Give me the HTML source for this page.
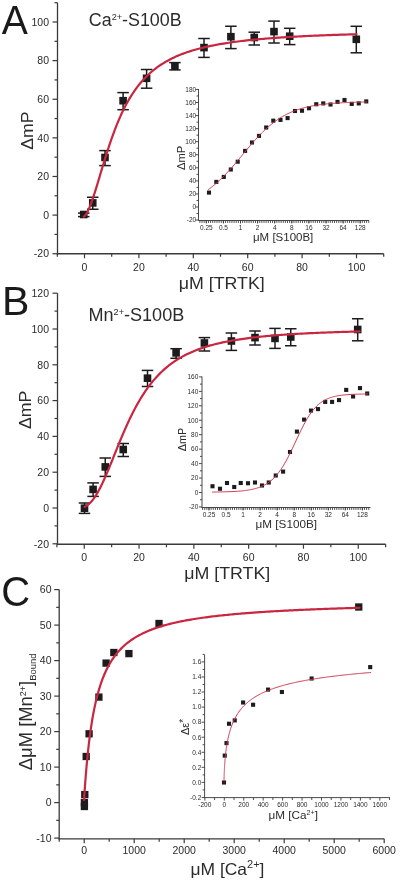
<!DOCTYPE html>
<html><head><meta charset="utf-8"><style>
html,body{margin:0;padding:0;background:#fff;}
body{width:400px;height:881px;overflow:hidden;font-family:"Liberation Sans", sans-serif;}
svg{display:block;filter:blur(0.3px);}
</style></head><body>
<svg width="400" height="881" viewBox="0 0 400 881" font-family='"Liberation Sans", sans-serif'>
<rect width="400" height="881" fill="#fff"/>
<text transform="translate(1.8,33.8) scale(0.9550,1)" font-size="41" text-anchor="start" fill="#1a1a1a">A</text>
<line x1="57.5" y1="2.69" x2="57.5" y2="254.35" stroke="#3a3a3a" stroke-width="1.3"/>
<line x1="52.5" y1="253.72" x2="57.5" y2="253.72" stroke="#3a3a3a" stroke-width="1.2"/>
<text x="49" y="257.48" font-size="10.5" text-anchor="end" fill="#2b2b2b" >-20</text>
<line x1="52.5" y1="215.1" x2="57.5" y2="215.1" stroke="#3a3a3a" stroke-width="1.2"/>
<text x="49" y="218.86" font-size="10.5" text-anchor="end" fill="#2b2b2b" >0</text>
<line x1="52.5" y1="176.48" x2="57.5" y2="176.48" stroke="#3a3a3a" stroke-width="1.2"/>
<text x="49" y="180.24" font-size="10.5" text-anchor="end" fill="#2b2b2b" >20</text>
<line x1="52.5" y1="137.86" x2="57.5" y2="137.86" stroke="#3a3a3a" stroke-width="1.2"/>
<text x="49" y="141.62" font-size="10.5" text-anchor="end" fill="#2b2b2b" >40</text>
<line x1="52.5" y1="99.24" x2="57.5" y2="99.24" stroke="#3a3a3a" stroke-width="1.2"/>
<text x="49" y="103" font-size="10.5" text-anchor="end" fill="#2b2b2b" >60</text>
<line x1="52.5" y1="60.62" x2="57.5" y2="60.62" stroke="#3a3a3a" stroke-width="1.2"/>
<text x="49" y="64.38" font-size="10.5" text-anchor="end" fill="#2b2b2b" >80</text>
<line x1="52.5" y1="22" x2="57.5" y2="22" stroke="#3a3a3a" stroke-width="1.2"/>
<text x="49" y="25.76" font-size="10.5" text-anchor="end" fill="#2b2b2b" >100</text>
<line x1="54.5" y1="234.41" x2="57.5" y2="234.41" stroke="#3a3a3a" stroke-width="1.2"/>
<line x1="54.5" y1="195.79" x2="57.5" y2="195.79" stroke="#3a3a3a" stroke-width="1.2"/>
<line x1="54.5" y1="157.17" x2="57.5" y2="157.17" stroke="#3a3a3a" stroke-width="1.2"/>
<line x1="54.5" y1="118.55" x2="57.5" y2="118.55" stroke="#3a3a3a" stroke-width="1.2"/>
<line x1="54.5" y1="79.93" x2="57.5" y2="79.93" stroke="#3a3a3a" stroke-width="1.2"/>
<line x1="54.5" y1="41.31" x2="57.5" y2="41.31" stroke="#3a3a3a" stroke-width="1.2"/>
<line x1="54.5" y1="2.69" x2="57.5" y2="2.69" stroke="#3a3a3a" stroke-width="1.2"/>
<line x1="56.9" y1="253.75" x2="383.7" y2="253.75" stroke="#3a3a3a" stroke-width="1.3"/>
<line x1="84.5" y1="253.75" x2="84.5" y2="258.25" stroke="#3a3a3a" stroke-width="1.2"/>
<text x="84.5" y="270.56" font-size="10.5" text-anchor="middle" fill="#2b2b2b" >0</text>
<line x1="138.9" y1="253.75" x2="138.9" y2="258.25" stroke="#3a3a3a" stroke-width="1.2"/>
<text x="138.9" y="270.56" font-size="10.5" text-anchor="middle" fill="#2b2b2b" >20</text>
<line x1="193.3" y1="253.75" x2="193.3" y2="258.25" stroke="#3a3a3a" stroke-width="1.2"/>
<text x="193.3" y="270.56" font-size="10.5" text-anchor="middle" fill="#2b2b2b" >40</text>
<line x1="247.7" y1="253.75" x2="247.7" y2="258.25" stroke="#3a3a3a" stroke-width="1.2"/>
<text x="247.7" y="270.56" font-size="10.5" text-anchor="middle" fill="#2b2b2b" >60</text>
<line x1="302.1" y1="253.75" x2="302.1" y2="258.25" stroke="#3a3a3a" stroke-width="1.2"/>
<text x="302.1" y="270.56" font-size="10.5" text-anchor="middle" fill="#2b2b2b" >80</text>
<line x1="356.5" y1="253.75" x2="356.5" y2="258.25" stroke="#3a3a3a" stroke-width="1.2"/>
<text x="356.5" y="270.56" font-size="10.5" text-anchor="middle" fill="#2b2b2b" >100</text>
<line x1="57.3" y1="253.75" x2="57.3" y2="256.75" stroke="#3a3a3a" stroke-width="1.2"/>
<line x1="111.7" y1="253.75" x2="111.7" y2="256.75" stroke="#3a3a3a" stroke-width="1.2"/>
<line x1="166.1" y1="253.75" x2="166.1" y2="256.75" stroke="#3a3a3a" stroke-width="1.2"/>
<line x1="220.5" y1="253.75" x2="220.5" y2="256.75" stroke="#3a3a3a" stroke-width="1.2"/>
<line x1="274.9" y1="253.75" x2="274.9" y2="256.75" stroke="#3a3a3a" stroke-width="1.2"/>
<line x1="329.3" y1="253.75" x2="329.3" y2="256.75" stroke="#3a3a3a" stroke-width="1.2"/>
<line x1="383.7" y1="253.75" x2="383.7" y2="256.75" stroke="#3a3a3a" stroke-width="1.2"/>
<text transform="translate(88.8,25.6) scale(1.0110,1)" font-size="17.7" text-anchor="start" fill="#2b2b2b">Ca<tspan font-size="9" dy="-5.9">2+</tspan><tspan dy="5.9">-S100B</tspan></text>
<text transform="translate(32.5,149.8) rotate(-90) scale(1.0260,1)" font-size="17.2" text-anchor="start" fill="#2b2b2b">ΔmP</text>
<text transform="translate(178.7,288.7) scale(1.0360,1)" font-size="17.2" text-anchor="start" fill="#2b2b2b">μM [TRTK]</text>
<line x1="83.75" y1="213.1" x2="83.75" y2="216.6" stroke="#1c1c1c" stroke-width="1.5"/>
<line x1="78" y1="213.1" x2="89.5" y2="213.1" stroke="#1c1c1c" stroke-width="1.5"/>
<line x1="78" y1="216.6" x2="89.5" y2="216.6" stroke="#1c1c1c" stroke-width="1.5"/>
<rect x="79.95" y="210.7" width="7.6" height="7.6" fill="#1c1c1c"/>
<line x1="92.75" y1="197.25" x2="92.75" y2="209.25" stroke="#1c1c1c" stroke-width="1.5"/>
<line x1="87" y1="197.25" x2="98.5" y2="197.25" stroke="#1c1c1c" stroke-width="1.5"/>
<line x1="87" y1="209.25" x2="98.5" y2="209.25" stroke="#1c1c1c" stroke-width="1.5"/>
<rect x="88.95" y="199.1" width="7.6" height="7.6" fill="#1c1c1c"/>
<line x1="105" y1="150.6" x2="105" y2="165.6" stroke="#1c1c1c" stroke-width="1.5"/>
<line x1="99.25" y1="150.6" x2="110.75" y2="150.6" stroke="#1c1c1c" stroke-width="1.5"/>
<line x1="99.25" y1="165.6" x2="110.75" y2="165.6" stroke="#1c1c1c" stroke-width="1.5"/>
<rect x="101.2" y="153.7" width="7.6" height="7.6" fill="#1c1c1c"/>
<line x1="123.1" y1="92.6" x2="123.1" y2="109.7" stroke="#1c1c1c" stroke-width="1.5"/>
<line x1="117.35" y1="92.6" x2="128.85" y2="92.6" stroke="#1c1c1c" stroke-width="1.5"/>
<line x1="117.35" y1="109.7" x2="128.85" y2="109.7" stroke="#1c1c1c" stroke-width="1.5"/>
<rect x="119.3" y="96.9" width="7.6" height="7.6" fill="#1c1c1c"/>
<line x1="146.6" y1="69.5" x2="146.6" y2="88.2" stroke="#1c1c1c" stroke-width="1.5"/>
<line x1="140.85" y1="69.5" x2="152.35" y2="69.5" stroke="#1c1c1c" stroke-width="1.5"/>
<line x1="140.85" y1="88.2" x2="152.35" y2="88.2" stroke="#1c1c1c" stroke-width="1.5"/>
<rect x="142.8" y="74.5" width="7.6" height="7.6" fill="#1c1c1c"/>
<line x1="174.9" y1="62.6" x2="174.9" y2="69.9" stroke="#1c1c1c" stroke-width="1.5"/>
<line x1="169.15" y1="62.6" x2="180.65" y2="62.6" stroke="#1c1c1c" stroke-width="1.5"/>
<line x1="169.15" y1="69.9" x2="180.65" y2="69.9" stroke="#1c1c1c" stroke-width="1.5"/>
<rect x="171.1" y="62.45" width="7.6" height="7.6" fill="#1c1c1c"/>
<line x1="204" y1="38.5" x2="204" y2="57.4" stroke="#1c1c1c" stroke-width="1.5"/>
<line x1="198.25" y1="38.5" x2="209.75" y2="38.5" stroke="#1c1c1c" stroke-width="1.5"/>
<line x1="198.25" y1="57.4" x2="209.75" y2="57.4" stroke="#1c1c1c" stroke-width="1.5"/>
<rect x="200.2" y="43.8" width="7.6" height="7.6" fill="#1c1c1c"/>
<line x1="230.9" y1="26.25" x2="230.9" y2="48.6" stroke="#1c1c1c" stroke-width="1.5"/>
<line x1="225.15" y1="26.25" x2="236.65" y2="26.25" stroke="#1c1c1c" stroke-width="1.5"/>
<line x1="225.15" y1="48.6" x2="236.65" y2="48.6" stroke="#1c1c1c" stroke-width="1.5"/>
<rect x="227.1" y="32.9" width="7.6" height="7.6" fill="#1c1c1c"/>
<line x1="254.25" y1="32.2" x2="254.25" y2="45" stroke="#1c1c1c" stroke-width="1.5"/>
<line x1="248.5" y1="32.2" x2="260" y2="32.2" stroke="#1c1c1c" stroke-width="1.5"/>
<line x1="248.5" y1="45" x2="260" y2="45" stroke="#1c1c1c" stroke-width="1.5"/>
<rect x="250.45" y="33.7" width="7.6" height="7.6" fill="#1c1c1c"/>
<line x1="274" y1="21.1" x2="274" y2="43" stroke="#1c1c1c" stroke-width="1.5"/>
<line x1="268.25" y1="21.1" x2="279.75" y2="21.1" stroke="#1c1c1c" stroke-width="1.5"/>
<line x1="268.25" y1="43" x2="279.75" y2="43" stroke="#1c1c1c" stroke-width="1.5"/>
<rect x="270.2" y="27.8" width="7.6" height="7.6" fill="#1c1c1c"/>
<line x1="289.7" y1="28.3" x2="289.7" y2="44.6" stroke="#1c1c1c" stroke-width="1.5"/>
<line x1="283.95" y1="28.3" x2="295.45" y2="28.3" stroke="#1c1c1c" stroke-width="1.5"/>
<line x1="283.95" y1="44.6" x2="295.45" y2="44.6" stroke="#1c1c1c" stroke-width="1.5"/>
<rect x="285.9" y="32.4" width="7.6" height="7.6" fill="#1c1c1c"/>
<line x1="356.3" y1="26.3" x2="356.3" y2="52.8" stroke="#1c1c1c" stroke-width="1.5"/>
<line x1="350.55" y1="26.3" x2="362.05" y2="26.3" stroke="#1c1c1c" stroke-width="1.5"/>
<line x1="350.55" y1="52.8" x2="362.05" y2="52.8" stroke="#1c1c1c" stroke-width="1.5"/>
<rect x="352.5" y="35.5" width="7.6" height="7.6" fill="#1c1c1c"/>
<text transform="translate(2,315) scale(1.0000,1)" font-size="41" text-anchor="start" fill="#1a1a1a">B</text>
<line x1="57.5" y1="293.2" x2="57.5" y2="544.85" stroke="#3a3a3a" stroke-width="1.3"/>
<line x1="52.5" y1="543.8" x2="57.5" y2="543.8" stroke="#3a3a3a" stroke-width="1.2"/>
<text x="49" y="547.56" font-size="10.5" text-anchor="end" fill="#2b2b2b" >-20</text>
<line x1="52.5" y1="508" x2="57.5" y2="508" stroke="#3a3a3a" stroke-width="1.2"/>
<text x="49" y="511.76" font-size="10.5" text-anchor="end" fill="#2b2b2b" >0</text>
<line x1="52.5" y1="472.2" x2="57.5" y2="472.2" stroke="#3a3a3a" stroke-width="1.2"/>
<text x="49" y="475.96" font-size="10.5" text-anchor="end" fill="#2b2b2b" >20</text>
<line x1="52.5" y1="436.4" x2="57.5" y2="436.4" stroke="#3a3a3a" stroke-width="1.2"/>
<text x="49" y="440.16" font-size="10.5" text-anchor="end" fill="#2b2b2b" >40</text>
<line x1="52.5" y1="400.6" x2="57.5" y2="400.6" stroke="#3a3a3a" stroke-width="1.2"/>
<text x="49" y="404.36" font-size="10.5" text-anchor="end" fill="#2b2b2b" >60</text>
<line x1="52.5" y1="364.8" x2="57.5" y2="364.8" stroke="#3a3a3a" stroke-width="1.2"/>
<text x="49" y="368.56" font-size="10.5" text-anchor="end" fill="#2b2b2b" >80</text>
<line x1="52.5" y1="329" x2="57.5" y2="329" stroke="#3a3a3a" stroke-width="1.2"/>
<text x="49" y="332.76" font-size="10.5" text-anchor="end" fill="#2b2b2b" >100</text>
<line x1="52.5" y1="293.2" x2="57.5" y2="293.2" stroke="#3a3a3a" stroke-width="1.2"/>
<text x="49" y="296.96" font-size="10.5" text-anchor="end" fill="#2b2b2b" >120</text>
<line x1="54.5" y1="525.9" x2="57.5" y2="525.9" stroke="#3a3a3a" stroke-width="1.2"/>
<line x1="54.5" y1="490.1" x2="57.5" y2="490.1" stroke="#3a3a3a" stroke-width="1.2"/>
<line x1="54.5" y1="454.3" x2="57.5" y2="454.3" stroke="#3a3a3a" stroke-width="1.2"/>
<line x1="54.5" y1="418.5" x2="57.5" y2="418.5" stroke="#3a3a3a" stroke-width="1.2"/>
<line x1="54.5" y1="382.7" x2="57.5" y2="382.7" stroke="#3a3a3a" stroke-width="1.2"/>
<line x1="54.5" y1="346.9" x2="57.5" y2="346.9" stroke="#3a3a3a" stroke-width="1.2"/>
<line x1="54.5" y1="311.1" x2="57.5" y2="311.1" stroke="#3a3a3a" stroke-width="1.2"/>
<line x1="56.9" y1="544.25" x2="385.65" y2="544.25" stroke="#3a3a3a" stroke-width="1.3"/>
<line x1="84.25" y1="544.25" x2="84.25" y2="548.75" stroke="#3a3a3a" stroke-width="1.2"/>
<text x="84.25" y="560.76" font-size="10.5" text-anchor="middle" fill="#2b2b2b" >0</text>
<line x1="139.05" y1="544.25" x2="139.05" y2="548.75" stroke="#3a3a3a" stroke-width="1.2"/>
<text x="139.05" y="560.76" font-size="10.5" text-anchor="middle" fill="#2b2b2b" >20</text>
<line x1="193.85" y1="544.25" x2="193.85" y2="548.75" stroke="#3a3a3a" stroke-width="1.2"/>
<text x="193.85" y="560.76" font-size="10.5" text-anchor="middle" fill="#2b2b2b" >40</text>
<line x1="248.65" y1="544.25" x2="248.65" y2="548.75" stroke="#3a3a3a" stroke-width="1.2"/>
<text x="248.65" y="560.76" font-size="10.5" text-anchor="middle" fill="#2b2b2b" >60</text>
<line x1="303.45" y1="544.25" x2="303.45" y2="548.75" stroke="#3a3a3a" stroke-width="1.2"/>
<text x="303.45" y="560.76" font-size="10.5" text-anchor="middle" fill="#2b2b2b" >80</text>
<line x1="358.25" y1="544.25" x2="358.25" y2="548.75" stroke="#3a3a3a" stroke-width="1.2"/>
<text x="358.25" y="560.76" font-size="10.5" text-anchor="middle" fill="#2b2b2b" >100</text>
<line x1="56.85" y1="544.25" x2="56.85" y2="547.25" stroke="#3a3a3a" stroke-width="1.2"/>
<line x1="111.65" y1="544.25" x2="111.65" y2="547.25" stroke="#3a3a3a" stroke-width="1.2"/>
<line x1="166.45" y1="544.25" x2="166.45" y2="547.25" stroke="#3a3a3a" stroke-width="1.2"/>
<line x1="221.25" y1="544.25" x2="221.25" y2="547.25" stroke="#3a3a3a" stroke-width="1.2"/>
<line x1="276.05" y1="544.25" x2="276.05" y2="547.25" stroke="#3a3a3a" stroke-width="1.2"/>
<line x1="330.85" y1="544.25" x2="330.85" y2="547.25" stroke="#3a3a3a" stroke-width="1.2"/>
<line x1="385.65" y1="544.25" x2="385.65" y2="547.25" stroke="#3a3a3a" stroke-width="1.2"/>
<text transform="translate(88.5,320.5) scale(1.0149,1)" font-size="17.8" text-anchor="start" fill="#2b2b2b">Mn<tspan font-size="9" dy="-5.9">2+</tspan><tspan dy="5.9">-S100B</tspan></text>
<text transform="translate(30.6,429.1) rotate(-90) scale(1.0340,1)" font-size="17.2" text-anchor="start" fill="#2b2b2b">ΔmP</text>
<text transform="translate(184.2,579.2) scale(1.0360,1)" font-size="17.2" text-anchor="start" fill="#2b2b2b">μM [TRTK]</text>
<line x1="84.5" y1="503" x2="84.5" y2="513.4" stroke="#1c1c1c" stroke-width="1.5"/>
<line x1="78.75" y1="503" x2="90.25" y2="503" stroke="#1c1c1c" stroke-width="1.5"/>
<line x1="78.75" y1="513.4" x2="90.25" y2="513.4" stroke="#1c1c1c" stroke-width="1.5"/>
<rect x="80.7" y="504.4" width="7.6" height="7.6" fill="#1c1c1c"/>
<line x1="93.1" y1="482.9" x2="93.1" y2="496.4" stroke="#1c1c1c" stroke-width="1.5"/>
<line x1="87.35" y1="482.9" x2="98.85" y2="482.9" stroke="#1c1c1c" stroke-width="1.5"/>
<line x1="87.35" y1="496.4" x2="98.85" y2="496.4" stroke="#1c1c1c" stroke-width="1.5"/>
<rect x="89.3" y="485.6" width="7.6" height="7.6" fill="#1c1c1c"/>
<line x1="105.25" y1="458" x2="105.25" y2="476.4" stroke="#1c1c1c" stroke-width="1.5"/>
<line x1="99.5" y1="458" x2="111" y2="458" stroke="#1c1c1c" stroke-width="1.5"/>
<line x1="99.5" y1="476.4" x2="111" y2="476.4" stroke="#1c1c1c" stroke-width="1.5"/>
<rect x="101.45" y="463.1" width="7.6" height="7.6" fill="#1c1c1c"/>
<line x1="123.25" y1="443.5" x2="123.25" y2="456.5" stroke="#1c1c1c" stroke-width="1.5"/>
<line x1="117.5" y1="443.5" x2="129" y2="443.5" stroke="#1c1c1c" stroke-width="1.5"/>
<line x1="117.5" y1="456.5" x2="129" y2="456.5" stroke="#1c1c1c" stroke-width="1.5"/>
<rect x="119.45" y="445.7" width="7.6" height="7.6" fill="#1c1c1c"/>
<line x1="147.5" y1="370.4" x2="147.5" y2="386.5" stroke="#1c1c1c" stroke-width="1.5"/>
<line x1="141.75" y1="370.4" x2="153.25" y2="370.4" stroke="#1c1c1c" stroke-width="1.5"/>
<line x1="141.75" y1="386.5" x2="153.25" y2="386.5" stroke="#1c1c1c" stroke-width="1.5"/>
<rect x="143.7" y="374.4" width="7.6" height="7.6" fill="#1c1c1c"/>
<line x1="176.1" y1="348.7" x2="176.1" y2="358.3" stroke="#1c1c1c" stroke-width="1.5"/>
<line x1="170.35" y1="348.7" x2="181.85" y2="348.7" stroke="#1c1c1c" stroke-width="1.5"/>
<line x1="170.35" y1="358.3" x2="181.85" y2="358.3" stroke="#1c1c1c" stroke-width="1.5"/>
<rect x="172.3" y="349.1" width="7.6" height="7.6" fill="#1c1c1c"/>
<line x1="204.4" y1="337.6" x2="204.4" y2="351" stroke="#1c1c1c" stroke-width="1.5"/>
<line x1="198.65" y1="337.6" x2="210.15" y2="337.6" stroke="#1c1c1c" stroke-width="1.5"/>
<line x1="198.65" y1="351" x2="210.15" y2="351" stroke="#1c1c1c" stroke-width="1.5"/>
<rect x="200.6" y="339.2" width="7.6" height="7.6" fill="#1c1c1c"/>
<line x1="231.4" y1="333" x2="231.4" y2="350.4" stroke="#1c1c1c" stroke-width="1.5"/>
<line x1="225.65" y1="333" x2="237.15" y2="333" stroke="#1c1c1c" stroke-width="1.5"/>
<line x1="225.65" y1="350.4" x2="237.15" y2="350.4" stroke="#1c1c1c" stroke-width="1.5"/>
<rect x="227.6" y="337.2" width="7.6" height="7.6" fill="#1c1c1c"/>
<line x1="255" y1="331" x2="255" y2="345" stroke="#1c1c1c" stroke-width="1.5"/>
<line x1="249.25" y1="331" x2="260.75" y2="331" stroke="#1c1c1c" stroke-width="1.5"/>
<line x1="249.25" y1="345" x2="260.75" y2="345" stroke="#1c1c1c" stroke-width="1.5"/>
<rect x="251.2" y="333.8" width="7.6" height="7.6" fill="#1c1c1c"/>
<line x1="275" y1="328.4" x2="275" y2="348.4" stroke="#1c1c1c" stroke-width="1.5"/>
<line x1="269.25" y1="328.4" x2="280.75" y2="328.4" stroke="#1c1c1c" stroke-width="1.5"/>
<line x1="269.25" y1="348.4" x2="280.75" y2="348.4" stroke="#1c1c1c" stroke-width="1.5"/>
<rect x="271.2" y="334.6" width="7.6" height="7.6" fill="#1c1c1c"/>
<line x1="290.75" y1="328.75" x2="290.75" y2="345.75" stroke="#1c1c1c" stroke-width="1.5"/>
<line x1="285" y1="328.75" x2="296.5" y2="328.75" stroke="#1c1c1c" stroke-width="1.5"/>
<line x1="285" y1="345.75" x2="296.5" y2="345.75" stroke="#1c1c1c" stroke-width="1.5"/>
<rect x="286.95" y="333.2" width="7.6" height="7.6" fill="#1c1c1c"/>
<line x1="357.7" y1="318.75" x2="357.7" y2="340.8" stroke="#1c1c1c" stroke-width="1.5"/>
<line x1="351.95" y1="318.75" x2="363.45" y2="318.75" stroke="#1c1c1c" stroke-width="1.5"/>
<line x1="351.95" y1="340.8" x2="363.45" y2="340.8" stroke="#1c1c1c" stroke-width="1.5"/>
<rect x="353.9" y="325.7" width="7.6" height="7.6" fill="#1c1c1c"/>
<text transform="translate(1.2,605.6) scale(0.9400,1)" font-size="42.5" text-anchor="start" fill="#1a1a1a">C</text>
<line x1="59.2" y1="589.6" x2="59.2" y2="839.4" stroke="#3a3a3a" stroke-width="1.3"/>
<line x1="54.2" y1="838.1" x2="59.2" y2="838.1" stroke="#3a3a3a" stroke-width="1.2"/>
<text x="51.5" y="841.86" font-size="10.5" text-anchor="end" fill="#2b2b2b" >-10</text>
<line x1="54.2" y1="802.6" x2="59.2" y2="802.6" stroke="#3a3a3a" stroke-width="1.2"/>
<text x="51.5" y="806.36" font-size="10.5" text-anchor="end" fill="#2b2b2b" >0</text>
<line x1="54.2" y1="767.1" x2="59.2" y2="767.1" stroke="#3a3a3a" stroke-width="1.2"/>
<text x="51.5" y="770.86" font-size="10.5" text-anchor="end" fill="#2b2b2b" >10</text>
<line x1="54.2" y1="731.6" x2="59.2" y2="731.6" stroke="#3a3a3a" stroke-width="1.2"/>
<text x="51.5" y="735.36" font-size="10.5" text-anchor="end" fill="#2b2b2b" >20</text>
<line x1="54.2" y1="696.1" x2="59.2" y2="696.1" stroke="#3a3a3a" stroke-width="1.2"/>
<text x="51.5" y="699.86" font-size="10.5" text-anchor="end" fill="#2b2b2b" >30</text>
<line x1="54.2" y1="660.6" x2="59.2" y2="660.6" stroke="#3a3a3a" stroke-width="1.2"/>
<text x="51.5" y="664.36" font-size="10.5" text-anchor="end" fill="#2b2b2b" >40</text>
<line x1="54.2" y1="625.1" x2="59.2" y2="625.1" stroke="#3a3a3a" stroke-width="1.2"/>
<text x="51.5" y="628.86" font-size="10.5" text-anchor="end" fill="#2b2b2b" >50</text>
<line x1="54.2" y1="589.6" x2="59.2" y2="589.6" stroke="#3a3a3a" stroke-width="1.2"/>
<text x="51.5" y="593.36" font-size="10.5" text-anchor="end" fill="#2b2b2b" >60</text>
<line x1="56.2" y1="820.35" x2="59.2" y2="820.35" stroke="#3a3a3a" stroke-width="1.2"/>
<line x1="56.2" y1="784.85" x2="59.2" y2="784.85" stroke="#3a3a3a" stroke-width="1.2"/>
<line x1="56.2" y1="749.35" x2="59.2" y2="749.35" stroke="#3a3a3a" stroke-width="1.2"/>
<line x1="56.2" y1="713.85" x2="59.2" y2="713.85" stroke="#3a3a3a" stroke-width="1.2"/>
<line x1="56.2" y1="678.35" x2="59.2" y2="678.35" stroke="#3a3a3a" stroke-width="1.2"/>
<line x1="56.2" y1="642.85" x2="59.2" y2="642.85" stroke="#3a3a3a" stroke-width="1.2"/>
<line x1="56.2" y1="607.35" x2="59.2" y2="607.35" stroke="#3a3a3a" stroke-width="1.2"/>
<line x1="58.6" y1="838.8" x2="384.2" y2="838.8" stroke="#3a3a3a" stroke-width="1.3"/>
<line x1="84.2" y1="838.8" x2="84.2" y2="843.3" stroke="#3a3a3a" stroke-width="1.2"/>
<text x="84.2" y="853.76" font-size="10.5" text-anchor="middle" fill="#2b2b2b" >0</text>
<line x1="134.2" y1="838.8" x2="134.2" y2="843.3" stroke="#3a3a3a" stroke-width="1.2"/>
<text x="134.2" y="853.76" font-size="10.5" text-anchor="middle" fill="#2b2b2b" >1000</text>
<line x1="184.2" y1="838.8" x2="184.2" y2="843.3" stroke="#3a3a3a" stroke-width="1.2"/>
<text x="184.2" y="853.76" font-size="10.5" text-anchor="middle" fill="#2b2b2b" >2000</text>
<line x1="234.2" y1="838.8" x2="234.2" y2="843.3" stroke="#3a3a3a" stroke-width="1.2"/>
<text x="234.2" y="853.76" font-size="10.5" text-anchor="middle" fill="#2b2b2b" >3000</text>
<line x1="284.2" y1="838.8" x2="284.2" y2="843.3" stroke="#3a3a3a" stroke-width="1.2"/>
<text x="284.2" y="853.76" font-size="10.5" text-anchor="middle" fill="#2b2b2b" >4000</text>
<line x1="334.2" y1="838.8" x2="334.2" y2="843.3" stroke="#3a3a3a" stroke-width="1.2"/>
<text x="334.2" y="853.76" font-size="10.5" text-anchor="middle" fill="#2b2b2b" >5000</text>
<line x1="384.2" y1="838.8" x2="384.2" y2="843.3" stroke="#3a3a3a" stroke-width="1.2"/>
<text x="384.2" y="853.76" font-size="10.5" text-anchor="middle" fill="#2b2b2b" >6000</text>
<line x1="59.2" y1="838.8" x2="59.2" y2="841.8" stroke="#3a3a3a" stroke-width="1.2"/>
<line x1="109.2" y1="838.8" x2="109.2" y2="841.8" stroke="#3a3a3a" stroke-width="1.2"/>
<line x1="159.2" y1="838.8" x2="159.2" y2="841.8" stroke="#3a3a3a" stroke-width="1.2"/>
<line x1="209.2" y1="838.8" x2="209.2" y2="841.8" stroke="#3a3a3a" stroke-width="1.2"/>
<line x1="259.2" y1="838.8" x2="259.2" y2="841.8" stroke="#3a3a3a" stroke-width="1.2"/>
<line x1="309.2" y1="838.8" x2="309.2" y2="841.8" stroke="#3a3a3a" stroke-width="1.2"/>
<line x1="359.2" y1="838.8" x2="359.2" y2="841.8" stroke="#3a3a3a" stroke-width="1.2"/>
<text transform="translate(31.6,770.2) rotate(-90) scale(1.0530,1)" font-size="17.5" text-anchor="start" fill="#2b2b2b">ΔμM [Mn<tspan font-size="8.5" dy="-5.9">2+</tspan><tspan dy="5.9">]</tspan><tspan font-size="9" dy="3.9">Bound</tspan></text>
<text transform="translate(190.5,874.8) scale(1.0450,1)" font-size="16.7" text-anchor="start" fill="#2b2b2b">μM [Ca<tspan font-size="10.5" dy="-6.5">2+</tspan><tspan dy="6.5">]</tspan></text>
<rect x="80.75" y="802.85" width="7.3" height="7.3" fill="#1c1c1c"/>
<rect x="80.75" y="798.95" width="7.3" height="7.3" fill="#1c1c1c"/>
<rect x="81.15" y="790.95" width="7.3" height="7.3" fill="#1c1c1c"/>
<rect x="82.55" y="752.85" width="7.3" height="7.3" fill="#1c1c1c"/>
<rect x="85.45" y="730.15" width="7.3" height="7.3" fill="#1c1c1c"/>
<rect x="95.25" y="693.45" width="7.3" height="7.3" fill="#1c1c1c"/>
<rect x="102.45" y="659.45" width="7.3" height="7.3" fill="#1c1c1c"/>
<rect x="110.2" y="648.85" width="7.3" height="7.3" fill="#1c1c1c"/>
<rect x="125.25" y="649.95" width="7.3" height="7.3" fill="#1c1c1c"/>
<rect x="155.35" y="619.85" width="7.3" height="7.3" fill="#1c1c1c"/>
<rect x="355.1" y="603.35" width="7.3" height="7.3" fill="#1c1c1c"/>
<line x1="198.5" y1="89" x2="198.5" y2="221" stroke="#4a4a4a" stroke-width="1.0"/>
<line x1="195.5" y1="220.06" x2="198.5" y2="220.06" stroke="#3a3a3a" stroke-width="0.9"/>
<text x="196.2" y="222.39" font-size="6.5" text-anchor="end" fill="#2b2b2b" >-20</text>
<line x1="195.5" y1="207" x2="198.5" y2="207" stroke="#3a3a3a" stroke-width="0.9"/>
<text x="196.2" y="209.33" font-size="6.5" text-anchor="end" fill="#2b2b2b" >0</text>
<line x1="195.5" y1="193.94" x2="198.5" y2="193.94" stroke="#3a3a3a" stroke-width="0.9"/>
<text x="196.2" y="196.27" font-size="6.5" text-anchor="end" fill="#2b2b2b" >20</text>
<line x1="195.5" y1="180.88" x2="198.5" y2="180.88" stroke="#3a3a3a" stroke-width="0.9"/>
<text x="196.2" y="183.21" font-size="6.5" text-anchor="end" fill="#2b2b2b" >40</text>
<line x1="195.5" y1="167.82" x2="198.5" y2="167.82" stroke="#3a3a3a" stroke-width="0.9"/>
<text x="196.2" y="170.15" font-size="6.5" text-anchor="end" fill="#2b2b2b" >60</text>
<line x1="195.5" y1="154.76" x2="198.5" y2="154.76" stroke="#3a3a3a" stroke-width="0.9"/>
<text x="196.2" y="157.09" font-size="6.5" text-anchor="end" fill="#2b2b2b" >80</text>
<line x1="195.5" y1="141.7" x2="198.5" y2="141.7" stroke="#3a3a3a" stroke-width="0.9"/>
<text x="196.2" y="144.03" font-size="6.5" text-anchor="end" fill="#2b2b2b" >100</text>
<line x1="195.5" y1="128.64" x2="198.5" y2="128.64" stroke="#3a3a3a" stroke-width="0.9"/>
<text x="196.2" y="130.97" font-size="6.5" text-anchor="end" fill="#2b2b2b" >120</text>
<line x1="195.5" y1="115.58" x2="198.5" y2="115.58" stroke="#3a3a3a" stroke-width="0.9"/>
<text x="196.2" y="117.91" font-size="6.5" text-anchor="end" fill="#2b2b2b" >140</text>
<line x1="195.5" y1="102.52" x2="198.5" y2="102.52" stroke="#3a3a3a" stroke-width="0.9"/>
<text x="196.2" y="104.85" font-size="6.5" text-anchor="end" fill="#2b2b2b" >160</text>
<line x1="195.5" y1="89.46" x2="198.5" y2="89.46" stroke="#3a3a3a" stroke-width="0.9"/>
<text x="196.2" y="91.79" font-size="6.5" text-anchor="end" fill="#2b2b2b" >180</text>
<line x1="196.5" y1="213.53" x2="198.5" y2="213.53" stroke="#3a3a3a" stroke-width="0.9"/>
<line x1="196.5" y1="200.47" x2="198.5" y2="200.47" stroke="#3a3a3a" stroke-width="0.9"/>
<line x1="196.5" y1="187.41" x2="198.5" y2="187.41" stroke="#3a3a3a" stroke-width="0.9"/>
<line x1="196.5" y1="174.35" x2="198.5" y2="174.35" stroke="#3a3a3a" stroke-width="0.9"/>
<line x1="196.5" y1="161.29" x2="198.5" y2="161.29" stroke="#3a3a3a" stroke-width="0.9"/>
<line x1="196.5" y1="148.23" x2="198.5" y2="148.23" stroke="#3a3a3a" stroke-width="0.9"/>
<line x1="196.5" y1="135.17" x2="198.5" y2="135.17" stroke="#3a3a3a" stroke-width="0.9"/>
<line x1="196.5" y1="122.11" x2="198.5" y2="122.11" stroke="#3a3a3a" stroke-width="0.9"/>
<line x1="196.5" y1="109.05" x2="198.5" y2="109.05" stroke="#3a3a3a" stroke-width="0.9"/>
<line x1="196.5" y1="95.99" x2="198.5" y2="95.99" stroke="#3a3a3a" stroke-width="0.9"/>
<line x1="198" y1="220.5" x2="369" y2="220.5" stroke="#4a4a4a" stroke-width="1.0"/>
<line x1="206.3" y1="220.5" x2="206.3" y2="223.5" stroke="#3a3a3a" stroke-width="0.9"/>
<text x="206.3" y="230.13" font-size="6.5" text-anchor="middle" fill="#2b2b2b" >0.25</text>
<line x1="223.4" y1="220.5" x2="223.4" y2="223.5" stroke="#3a3a3a" stroke-width="0.9"/>
<text x="223.4" y="230.13" font-size="6.5" text-anchor="middle" fill="#2b2b2b" >0.5</text>
<line x1="240.5" y1="220.5" x2="240.5" y2="223.5" stroke="#3a3a3a" stroke-width="0.9"/>
<text x="240.5" y="230.13" font-size="6.5" text-anchor="middle" fill="#2b2b2b" >1</text>
<line x1="257.6" y1="220.5" x2="257.6" y2="223.5" stroke="#3a3a3a" stroke-width="0.9"/>
<text x="257.6" y="230.13" font-size="6.5" text-anchor="middle" fill="#2b2b2b" >2</text>
<line x1="274.7" y1="220.5" x2="274.7" y2="223.5" stroke="#3a3a3a" stroke-width="0.9"/>
<text x="274.7" y="230.13" font-size="6.5" text-anchor="middle" fill="#2b2b2b" >4</text>
<line x1="291.8" y1="220.5" x2="291.8" y2="223.5" stroke="#3a3a3a" stroke-width="0.9"/>
<text x="291.8" y="230.13" font-size="6.5" text-anchor="middle" fill="#2b2b2b" >8</text>
<line x1="308.9" y1="220.5" x2="308.9" y2="223.5" stroke="#3a3a3a" stroke-width="0.9"/>
<text x="308.9" y="230.13" font-size="6.5" text-anchor="middle" fill="#2b2b2b" >16</text>
<line x1="326" y1="220.5" x2="326" y2="223.5" stroke="#3a3a3a" stroke-width="0.9"/>
<text x="326" y="230.13" font-size="6.5" text-anchor="middle" fill="#2b2b2b" >32</text>
<line x1="343.1" y1="220.5" x2="343.1" y2="223.5" stroke="#3a3a3a" stroke-width="0.9"/>
<text x="343.1" y="230.13" font-size="6.5" text-anchor="middle" fill="#2b2b2b" >64</text>
<line x1="360.2" y1="220.5" x2="360.2" y2="223.5" stroke="#3a3a3a" stroke-width="0.9"/>
<text x="360.2" y="230.13" font-size="6.5" text-anchor="middle" fill="#2b2b2b" >128</text>
<line x1="199.89" y1="220.5" x2="199.89" y2="222.9" stroke="#3a3a3a" stroke-width="0.9"/>
<line x1="202.03" y1="220.5" x2="202.03" y2="222.9" stroke="#3a3a3a" stroke-width="0.9"/>
<line x1="204.16" y1="220.5" x2="204.16" y2="222.9" stroke="#3a3a3a" stroke-width="0.9"/>
<line x1="206.3" y1="220.5" x2="206.3" y2="222.9" stroke="#3a3a3a" stroke-width="0.9"/>
<line x1="208.44" y1="220.5" x2="208.44" y2="222.9" stroke="#3a3a3a" stroke-width="0.9"/>
<line x1="210.58" y1="220.5" x2="210.58" y2="222.9" stroke="#3a3a3a" stroke-width="0.9"/>
<line x1="212.71" y1="220.5" x2="212.71" y2="222.9" stroke="#3a3a3a" stroke-width="0.9"/>
<line x1="214.85" y1="220.5" x2="214.85" y2="222.9" stroke="#3a3a3a" stroke-width="0.9"/>
<line x1="216.99" y1="220.5" x2="216.99" y2="222.9" stroke="#3a3a3a" stroke-width="0.9"/>
<line x1="219.12" y1="220.5" x2="219.12" y2="222.9" stroke="#3a3a3a" stroke-width="0.9"/>
<line x1="221.26" y1="220.5" x2="221.26" y2="222.9" stroke="#3a3a3a" stroke-width="0.9"/>
<line x1="223.4" y1="220.5" x2="223.4" y2="222.9" stroke="#3a3a3a" stroke-width="0.9"/>
<line x1="225.54" y1="220.5" x2="225.54" y2="222.9" stroke="#3a3a3a" stroke-width="0.9"/>
<line x1="227.68" y1="220.5" x2="227.68" y2="222.9" stroke="#3a3a3a" stroke-width="0.9"/>
<line x1="229.81" y1="220.5" x2="229.81" y2="222.9" stroke="#3a3a3a" stroke-width="0.9"/>
<line x1="231.95" y1="220.5" x2="231.95" y2="222.9" stroke="#3a3a3a" stroke-width="0.9"/>
<line x1="234.09" y1="220.5" x2="234.09" y2="222.9" stroke="#3a3a3a" stroke-width="0.9"/>
<line x1="236.23" y1="220.5" x2="236.23" y2="222.9" stroke="#3a3a3a" stroke-width="0.9"/>
<line x1="238.36" y1="220.5" x2="238.36" y2="222.9" stroke="#3a3a3a" stroke-width="0.9"/>
<line x1="240.5" y1="220.5" x2="240.5" y2="222.9" stroke="#3a3a3a" stroke-width="0.9"/>
<line x1="242.64" y1="220.5" x2="242.64" y2="222.9" stroke="#3a3a3a" stroke-width="0.9"/>
<line x1="244.78" y1="220.5" x2="244.78" y2="222.9" stroke="#3a3a3a" stroke-width="0.9"/>
<line x1="246.91" y1="220.5" x2="246.91" y2="222.9" stroke="#3a3a3a" stroke-width="0.9"/>
<line x1="249.05" y1="220.5" x2="249.05" y2="222.9" stroke="#3a3a3a" stroke-width="0.9"/>
<line x1="251.19" y1="220.5" x2="251.19" y2="222.9" stroke="#3a3a3a" stroke-width="0.9"/>
<line x1="253.33" y1="220.5" x2="253.33" y2="222.9" stroke="#3a3a3a" stroke-width="0.9"/>
<line x1="255.46" y1="220.5" x2="255.46" y2="222.9" stroke="#3a3a3a" stroke-width="0.9"/>
<line x1="257.6" y1="220.5" x2="257.6" y2="222.9" stroke="#3a3a3a" stroke-width="0.9"/>
<line x1="259.74" y1="220.5" x2="259.74" y2="222.9" stroke="#3a3a3a" stroke-width="0.9"/>
<line x1="261.88" y1="220.5" x2="261.88" y2="222.9" stroke="#3a3a3a" stroke-width="0.9"/>
<line x1="264.01" y1="220.5" x2="264.01" y2="222.9" stroke="#3a3a3a" stroke-width="0.9"/>
<line x1="266.15" y1="220.5" x2="266.15" y2="222.9" stroke="#3a3a3a" stroke-width="0.9"/>
<line x1="268.29" y1="220.5" x2="268.29" y2="222.9" stroke="#3a3a3a" stroke-width="0.9"/>
<line x1="270.43" y1="220.5" x2="270.43" y2="222.9" stroke="#3a3a3a" stroke-width="0.9"/>
<line x1="272.56" y1="220.5" x2="272.56" y2="222.9" stroke="#3a3a3a" stroke-width="0.9"/>
<line x1="274.7" y1="220.5" x2="274.7" y2="222.9" stroke="#3a3a3a" stroke-width="0.9"/>
<line x1="276.84" y1="220.5" x2="276.84" y2="222.9" stroke="#3a3a3a" stroke-width="0.9"/>
<line x1="278.98" y1="220.5" x2="278.98" y2="222.9" stroke="#3a3a3a" stroke-width="0.9"/>
<line x1="281.11" y1="220.5" x2="281.11" y2="222.9" stroke="#3a3a3a" stroke-width="0.9"/>
<line x1="283.25" y1="220.5" x2="283.25" y2="222.9" stroke="#3a3a3a" stroke-width="0.9"/>
<line x1="285.39" y1="220.5" x2="285.39" y2="222.9" stroke="#3a3a3a" stroke-width="0.9"/>
<line x1="287.53" y1="220.5" x2="287.53" y2="222.9" stroke="#3a3a3a" stroke-width="0.9"/>
<line x1="289.66" y1="220.5" x2="289.66" y2="222.9" stroke="#3a3a3a" stroke-width="0.9"/>
<line x1="291.8" y1="220.5" x2="291.8" y2="222.9" stroke="#3a3a3a" stroke-width="0.9"/>
<line x1="293.94" y1="220.5" x2="293.94" y2="222.9" stroke="#3a3a3a" stroke-width="0.9"/>
<line x1="296.08" y1="220.5" x2="296.08" y2="222.9" stroke="#3a3a3a" stroke-width="0.9"/>
<line x1="298.21" y1="220.5" x2="298.21" y2="222.9" stroke="#3a3a3a" stroke-width="0.9"/>
<line x1="300.35" y1="220.5" x2="300.35" y2="222.9" stroke="#3a3a3a" stroke-width="0.9"/>
<line x1="302.49" y1="220.5" x2="302.49" y2="222.9" stroke="#3a3a3a" stroke-width="0.9"/>
<line x1="304.62" y1="220.5" x2="304.62" y2="222.9" stroke="#3a3a3a" stroke-width="0.9"/>
<line x1="306.76" y1="220.5" x2="306.76" y2="222.9" stroke="#3a3a3a" stroke-width="0.9"/>
<line x1="308.9" y1="220.5" x2="308.9" y2="222.9" stroke="#3a3a3a" stroke-width="0.9"/>
<line x1="311.04" y1="220.5" x2="311.04" y2="222.9" stroke="#3a3a3a" stroke-width="0.9"/>
<line x1="313.18" y1="220.5" x2="313.18" y2="222.9" stroke="#3a3a3a" stroke-width="0.9"/>
<line x1="315.31" y1="220.5" x2="315.31" y2="222.9" stroke="#3a3a3a" stroke-width="0.9"/>
<line x1="317.45" y1="220.5" x2="317.45" y2="222.9" stroke="#3a3a3a" stroke-width="0.9"/>
<line x1="319.59" y1="220.5" x2="319.59" y2="222.9" stroke="#3a3a3a" stroke-width="0.9"/>
<line x1="321.73" y1="220.5" x2="321.73" y2="222.9" stroke="#3a3a3a" stroke-width="0.9"/>
<line x1="323.86" y1="220.5" x2="323.86" y2="222.9" stroke="#3a3a3a" stroke-width="0.9"/>
<line x1="326" y1="220.5" x2="326" y2="222.9" stroke="#3a3a3a" stroke-width="0.9"/>
<line x1="328.14" y1="220.5" x2="328.14" y2="222.9" stroke="#3a3a3a" stroke-width="0.9"/>
<line x1="330.28" y1="220.5" x2="330.28" y2="222.9" stroke="#3a3a3a" stroke-width="0.9"/>
<line x1="332.41" y1="220.5" x2="332.41" y2="222.9" stroke="#3a3a3a" stroke-width="0.9"/>
<line x1="334.55" y1="220.5" x2="334.55" y2="222.9" stroke="#3a3a3a" stroke-width="0.9"/>
<line x1="336.69" y1="220.5" x2="336.69" y2="222.9" stroke="#3a3a3a" stroke-width="0.9"/>
<line x1="338.83" y1="220.5" x2="338.83" y2="222.9" stroke="#3a3a3a" stroke-width="0.9"/>
<line x1="340.96" y1="220.5" x2="340.96" y2="222.9" stroke="#3a3a3a" stroke-width="0.9"/>
<line x1="343.1" y1="220.5" x2="343.1" y2="222.9" stroke="#3a3a3a" stroke-width="0.9"/>
<line x1="345.24" y1="220.5" x2="345.24" y2="222.9" stroke="#3a3a3a" stroke-width="0.9"/>
<line x1="347.38" y1="220.5" x2="347.38" y2="222.9" stroke="#3a3a3a" stroke-width="0.9"/>
<line x1="349.51" y1="220.5" x2="349.51" y2="222.9" stroke="#3a3a3a" stroke-width="0.9"/>
<line x1="351.65" y1="220.5" x2="351.65" y2="222.9" stroke="#3a3a3a" stroke-width="0.9"/>
<line x1="353.79" y1="220.5" x2="353.79" y2="222.9" stroke="#3a3a3a" stroke-width="0.9"/>
<line x1="355.93" y1="220.5" x2="355.93" y2="222.9" stroke="#3a3a3a" stroke-width="0.9"/>
<line x1="358.06" y1="220.5" x2="358.06" y2="222.9" stroke="#3a3a3a" stroke-width="0.9"/>
<line x1="360.2" y1="220.5" x2="360.2" y2="222.9" stroke="#3a3a3a" stroke-width="0.9"/>
<line x1="362.34" y1="220.5" x2="362.34" y2="222.9" stroke="#3a3a3a" stroke-width="0.9"/>
<line x1="364.48" y1="220.5" x2="364.48" y2="222.9" stroke="#3a3a3a" stroke-width="0.9"/>
<line x1="366.61" y1="220.5" x2="366.61" y2="222.9" stroke="#3a3a3a" stroke-width="0.9"/>
<line x1="368.75" y1="220.5" x2="368.75" y2="222.9" stroke="#3a3a3a" stroke-width="0.9"/>
<text transform="translate(184.5,170) rotate(-90) scale(1.0400,1)" font-size="10.8" text-anchor="start" fill="#2b2b2b">ΔmP</text>
<text transform="translate(253,241) scale(1.0100,1)" font-size="11.4" text-anchor="start" fill="#2b2b2b">μM [S100B]</text>
<rect x="206.95" y="190.55" width="4.1" height="4.1" fill="#1c1c1c"/>
<rect x="214.25" y="179.85" width="4.1" height="4.1" fill="#1c1c1c"/>
<rect x="221.75" y="174.85" width="4.1" height="4.1" fill="#1c1c1c"/>
<rect x="228.75" y="167.45" width="4.1" height="4.1" fill="#1c1c1c"/>
<rect x="235.65" y="159.65" width="4.1" height="4.1" fill="#1c1c1c"/>
<rect x="243.05" y="148.85" width="4.1" height="4.1" fill="#1c1c1c"/>
<rect x="249.95" y="140.45" width="4.1" height="4.1" fill="#1c1c1c"/>
<rect x="256.95" y="133.85" width="4.1" height="4.1" fill="#1c1c1c"/>
<rect x="264.15" y="125.45" width="4.1" height="4.1" fill="#1c1c1c"/>
<rect x="271.25" y="118.65" width="4.1" height="4.1" fill="#1c1c1c"/>
<rect x="278.45" y="117.85" width="4.1" height="4.1" fill="#1c1c1c"/>
<rect x="285.55" y="116.05" width="4.1" height="4.1" fill="#1c1c1c"/>
<rect x="292.95" y="108.95" width="4.1" height="4.1" fill="#1c1c1c"/>
<rect x="299.95" y="108.7" width="4.1" height="4.1" fill="#1c1c1c"/>
<rect x="306.95" y="106.2" width="4.1" height="4.1" fill="#1c1c1c"/>
<rect x="314.2" y="102.2" width="4.1" height="4.1" fill="#1c1c1c"/>
<rect x="321.2" y="101.35" width="4.1" height="4.1" fill="#1c1c1c"/>
<rect x="328.45" y="102.45" width="4.1" height="4.1" fill="#1c1c1c"/>
<rect x="335.45" y="99.85" width="4.1" height="4.1" fill="#1c1c1c"/>
<rect x="342.45" y="97.95" width="4.1" height="4.1" fill="#1c1c1c"/>
<rect x="349.7" y="101.85" width="4.1" height="4.1" fill="#1c1c1c"/>
<rect x="356.7" y="101.35" width="4.1" height="4.1" fill="#1c1c1c"/>
<rect x="364.2" y="99.35" width="4.1" height="4.1" fill="#1c1c1c"/>
<line x1="202" y1="376.5" x2="202" y2="508" stroke="#4a4a4a" stroke-width="1.0"/>
<line x1="199" y1="506.95" x2="202" y2="506.95" stroke="#3a3a3a" stroke-width="0.9"/>
<text x="198.3" y="509.28" font-size="6.5" text-anchor="end" fill="#2b2b2b" >-20</text>
<line x1="199" y1="492.5" x2="202" y2="492.5" stroke="#3a3a3a" stroke-width="0.9"/>
<text x="198.3" y="494.83" font-size="6.5" text-anchor="end" fill="#2b2b2b" >0</text>
<line x1="199" y1="478.05" x2="202" y2="478.05" stroke="#3a3a3a" stroke-width="0.9"/>
<text x="198.3" y="480.38" font-size="6.5" text-anchor="end" fill="#2b2b2b" >20</text>
<line x1="199" y1="463.6" x2="202" y2="463.6" stroke="#3a3a3a" stroke-width="0.9"/>
<text x="198.3" y="465.93" font-size="6.5" text-anchor="end" fill="#2b2b2b" >40</text>
<line x1="199" y1="449.15" x2="202" y2="449.15" stroke="#3a3a3a" stroke-width="0.9"/>
<text x="198.3" y="451.48" font-size="6.5" text-anchor="end" fill="#2b2b2b" >60</text>
<line x1="199" y1="434.7" x2="202" y2="434.7" stroke="#3a3a3a" stroke-width="0.9"/>
<text x="198.3" y="437.03" font-size="6.5" text-anchor="end" fill="#2b2b2b" >80</text>
<line x1="199" y1="420.25" x2="202" y2="420.25" stroke="#3a3a3a" stroke-width="0.9"/>
<text x="198.3" y="422.58" font-size="6.5" text-anchor="end" fill="#2b2b2b" >100</text>
<line x1="199" y1="405.8" x2="202" y2="405.8" stroke="#3a3a3a" stroke-width="0.9"/>
<text x="198.3" y="408.13" font-size="6.5" text-anchor="end" fill="#2b2b2b" >120</text>
<line x1="199" y1="391.35" x2="202" y2="391.35" stroke="#3a3a3a" stroke-width="0.9"/>
<text x="198.3" y="393.68" font-size="6.5" text-anchor="end" fill="#2b2b2b" >140</text>
<line x1="199" y1="376.9" x2="202" y2="376.9" stroke="#3a3a3a" stroke-width="0.9"/>
<text x="198.3" y="379.23" font-size="6.5" text-anchor="end" fill="#2b2b2b" >160</text>
<line x1="200" y1="499.73" x2="202" y2="499.73" stroke="#3a3a3a" stroke-width="0.9"/>
<line x1="200" y1="485.27" x2="202" y2="485.27" stroke="#3a3a3a" stroke-width="0.9"/>
<line x1="200" y1="470.82" x2="202" y2="470.82" stroke="#3a3a3a" stroke-width="0.9"/>
<line x1="200" y1="456.38" x2="202" y2="456.38" stroke="#3a3a3a" stroke-width="0.9"/>
<line x1="200" y1="441.93" x2="202" y2="441.93" stroke="#3a3a3a" stroke-width="0.9"/>
<line x1="200" y1="427.48" x2="202" y2="427.48" stroke="#3a3a3a" stroke-width="0.9"/>
<line x1="200" y1="413.02" x2="202" y2="413.02" stroke="#3a3a3a" stroke-width="0.9"/>
<line x1="200" y1="398.57" x2="202" y2="398.57" stroke="#3a3a3a" stroke-width="0.9"/>
<line x1="200" y1="384.12" x2="202" y2="384.12" stroke="#3a3a3a" stroke-width="0.9"/>
<line x1="201.5" y1="507.5" x2="370.5" y2="507.5" stroke="#4a4a4a" stroke-width="1.0"/>
<line x1="209" y1="507.5" x2="209" y2="510.5" stroke="#3a3a3a" stroke-width="0.9"/>
<text x="209" y="517.33" font-size="6.5" text-anchor="middle" fill="#2b2b2b" >0.25</text>
<line x1="226.04" y1="507.5" x2="226.04" y2="510.5" stroke="#3a3a3a" stroke-width="0.9"/>
<text x="226.04" y="517.33" font-size="6.5" text-anchor="middle" fill="#2b2b2b" >0.5</text>
<line x1="243.08" y1="507.5" x2="243.08" y2="510.5" stroke="#3a3a3a" stroke-width="0.9"/>
<text x="243.08" y="517.33" font-size="6.5" text-anchor="middle" fill="#2b2b2b" >1</text>
<line x1="260.12" y1="507.5" x2="260.12" y2="510.5" stroke="#3a3a3a" stroke-width="0.9"/>
<text x="260.12" y="517.33" font-size="6.5" text-anchor="middle" fill="#2b2b2b" >2</text>
<line x1="277.16" y1="507.5" x2="277.16" y2="510.5" stroke="#3a3a3a" stroke-width="0.9"/>
<text x="277.16" y="517.33" font-size="6.5" text-anchor="middle" fill="#2b2b2b" >4</text>
<line x1="294.2" y1="507.5" x2="294.2" y2="510.5" stroke="#3a3a3a" stroke-width="0.9"/>
<text x="294.2" y="517.33" font-size="6.5" text-anchor="middle" fill="#2b2b2b" >8</text>
<line x1="311.24" y1="507.5" x2="311.24" y2="510.5" stroke="#3a3a3a" stroke-width="0.9"/>
<text x="311.24" y="517.33" font-size="6.5" text-anchor="middle" fill="#2b2b2b" >16</text>
<line x1="328.28" y1="507.5" x2="328.28" y2="510.5" stroke="#3a3a3a" stroke-width="0.9"/>
<text x="328.28" y="517.33" font-size="6.5" text-anchor="middle" fill="#2b2b2b" >32</text>
<line x1="345.32" y1="507.5" x2="345.32" y2="510.5" stroke="#3a3a3a" stroke-width="0.9"/>
<text x="345.32" y="517.33" font-size="6.5" text-anchor="middle" fill="#2b2b2b" >64</text>
<line x1="362.36" y1="507.5" x2="362.36" y2="510.5" stroke="#3a3a3a" stroke-width="0.9"/>
<text x="362.36" y="517.33" font-size="6.5" text-anchor="middle" fill="#2b2b2b" >128</text>
<line x1="202.61" y1="507.5" x2="202.61" y2="509.9" stroke="#3a3a3a" stroke-width="0.9"/>
<line x1="204.74" y1="507.5" x2="204.74" y2="509.9" stroke="#3a3a3a" stroke-width="0.9"/>
<line x1="206.87" y1="507.5" x2="206.87" y2="509.9" stroke="#3a3a3a" stroke-width="0.9"/>
<line x1="209" y1="507.5" x2="209" y2="509.9" stroke="#3a3a3a" stroke-width="0.9"/>
<line x1="211.13" y1="507.5" x2="211.13" y2="509.9" stroke="#3a3a3a" stroke-width="0.9"/>
<line x1="213.26" y1="507.5" x2="213.26" y2="509.9" stroke="#3a3a3a" stroke-width="0.9"/>
<line x1="215.39" y1="507.5" x2="215.39" y2="509.9" stroke="#3a3a3a" stroke-width="0.9"/>
<line x1="217.52" y1="507.5" x2="217.52" y2="509.9" stroke="#3a3a3a" stroke-width="0.9"/>
<line x1="219.65" y1="507.5" x2="219.65" y2="509.9" stroke="#3a3a3a" stroke-width="0.9"/>
<line x1="221.78" y1="507.5" x2="221.78" y2="509.9" stroke="#3a3a3a" stroke-width="0.9"/>
<line x1="223.91" y1="507.5" x2="223.91" y2="509.9" stroke="#3a3a3a" stroke-width="0.9"/>
<line x1="226.04" y1="507.5" x2="226.04" y2="509.9" stroke="#3a3a3a" stroke-width="0.9"/>
<line x1="228.17" y1="507.5" x2="228.17" y2="509.9" stroke="#3a3a3a" stroke-width="0.9"/>
<line x1="230.3" y1="507.5" x2="230.3" y2="509.9" stroke="#3a3a3a" stroke-width="0.9"/>
<line x1="232.43" y1="507.5" x2="232.43" y2="509.9" stroke="#3a3a3a" stroke-width="0.9"/>
<line x1="234.56" y1="507.5" x2="234.56" y2="509.9" stroke="#3a3a3a" stroke-width="0.9"/>
<line x1="236.69" y1="507.5" x2="236.69" y2="509.9" stroke="#3a3a3a" stroke-width="0.9"/>
<line x1="238.82" y1="507.5" x2="238.82" y2="509.9" stroke="#3a3a3a" stroke-width="0.9"/>
<line x1="240.95" y1="507.5" x2="240.95" y2="509.9" stroke="#3a3a3a" stroke-width="0.9"/>
<line x1="243.08" y1="507.5" x2="243.08" y2="509.9" stroke="#3a3a3a" stroke-width="0.9"/>
<line x1="245.21" y1="507.5" x2="245.21" y2="509.9" stroke="#3a3a3a" stroke-width="0.9"/>
<line x1="247.34" y1="507.5" x2="247.34" y2="509.9" stroke="#3a3a3a" stroke-width="0.9"/>
<line x1="249.47" y1="507.5" x2="249.47" y2="509.9" stroke="#3a3a3a" stroke-width="0.9"/>
<line x1="251.6" y1="507.5" x2="251.6" y2="509.9" stroke="#3a3a3a" stroke-width="0.9"/>
<line x1="253.73" y1="507.5" x2="253.73" y2="509.9" stroke="#3a3a3a" stroke-width="0.9"/>
<line x1="255.86" y1="507.5" x2="255.86" y2="509.9" stroke="#3a3a3a" stroke-width="0.9"/>
<line x1="257.99" y1="507.5" x2="257.99" y2="509.9" stroke="#3a3a3a" stroke-width="0.9"/>
<line x1="260.12" y1="507.5" x2="260.12" y2="509.9" stroke="#3a3a3a" stroke-width="0.9"/>
<line x1="262.25" y1="507.5" x2="262.25" y2="509.9" stroke="#3a3a3a" stroke-width="0.9"/>
<line x1="264.38" y1="507.5" x2="264.38" y2="509.9" stroke="#3a3a3a" stroke-width="0.9"/>
<line x1="266.51" y1="507.5" x2="266.51" y2="509.9" stroke="#3a3a3a" stroke-width="0.9"/>
<line x1="268.64" y1="507.5" x2="268.64" y2="509.9" stroke="#3a3a3a" stroke-width="0.9"/>
<line x1="270.77" y1="507.5" x2="270.77" y2="509.9" stroke="#3a3a3a" stroke-width="0.9"/>
<line x1="272.9" y1="507.5" x2="272.9" y2="509.9" stroke="#3a3a3a" stroke-width="0.9"/>
<line x1="275.03" y1="507.5" x2="275.03" y2="509.9" stroke="#3a3a3a" stroke-width="0.9"/>
<line x1="277.16" y1="507.5" x2="277.16" y2="509.9" stroke="#3a3a3a" stroke-width="0.9"/>
<line x1="279.29" y1="507.5" x2="279.29" y2="509.9" stroke="#3a3a3a" stroke-width="0.9"/>
<line x1="281.42" y1="507.5" x2="281.42" y2="509.9" stroke="#3a3a3a" stroke-width="0.9"/>
<line x1="283.55" y1="507.5" x2="283.55" y2="509.9" stroke="#3a3a3a" stroke-width="0.9"/>
<line x1="285.68" y1="507.5" x2="285.68" y2="509.9" stroke="#3a3a3a" stroke-width="0.9"/>
<line x1="287.81" y1="507.5" x2="287.81" y2="509.9" stroke="#3a3a3a" stroke-width="0.9"/>
<line x1="289.94" y1="507.5" x2="289.94" y2="509.9" stroke="#3a3a3a" stroke-width="0.9"/>
<line x1="292.07" y1="507.5" x2="292.07" y2="509.9" stroke="#3a3a3a" stroke-width="0.9"/>
<line x1="294.2" y1="507.5" x2="294.2" y2="509.9" stroke="#3a3a3a" stroke-width="0.9"/>
<line x1="296.33" y1="507.5" x2="296.33" y2="509.9" stroke="#3a3a3a" stroke-width="0.9"/>
<line x1="298.46" y1="507.5" x2="298.46" y2="509.9" stroke="#3a3a3a" stroke-width="0.9"/>
<line x1="300.59" y1="507.5" x2="300.59" y2="509.9" stroke="#3a3a3a" stroke-width="0.9"/>
<line x1="302.72" y1="507.5" x2="302.72" y2="509.9" stroke="#3a3a3a" stroke-width="0.9"/>
<line x1="304.85" y1="507.5" x2="304.85" y2="509.9" stroke="#3a3a3a" stroke-width="0.9"/>
<line x1="306.98" y1="507.5" x2="306.98" y2="509.9" stroke="#3a3a3a" stroke-width="0.9"/>
<line x1="309.11" y1="507.5" x2="309.11" y2="509.9" stroke="#3a3a3a" stroke-width="0.9"/>
<line x1="311.24" y1="507.5" x2="311.24" y2="509.9" stroke="#3a3a3a" stroke-width="0.9"/>
<line x1="313.37" y1="507.5" x2="313.37" y2="509.9" stroke="#3a3a3a" stroke-width="0.9"/>
<line x1="315.5" y1="507.5" x2="315.5" y2="509.9" stroke="#3a3a3a" stroke-width="0.9"/>
<line x1="317.63" y1="507.5" x2="317.63" y2="509.9" stroke="#3a3a3a" stroke-width="0.9"/>
<line x1="319.76" y1="507.5" x2="319.76" y2="509.9" stroke="#3a3a3a" stroke-width="0.9"/>
<line x1="321.89" y1="507.5" x2="321.89" y2="509.9" stroke="#3a3a3a" stroke-width="0.9"/>
<line x1="324.02" y1="507.5" x2="324.02" y2="509.9" stroke="#3a3a3a" stroke-width="0.9"/>
<line x1="326.15" y1="507.5" x2="326.15" y2="509.9" stroke="#3a3a3a" stroke-width="0.9"/>
<line x1="328.28" y1="507.5" x2="328.28" y2="509.9" stroke="#3a3a3a" stroke-width="0.9"/>
<line x1="330.41" y1="507.5" x2="330.41" y2="509.9" stroke="#3a3a3a" stroke-width="0.9"/>
<line x1="332.54" y1="507.5" x2="332.54" y2="509.9" stroke="#3a3a3a" stroke-width="0.9"/>
<line x1="334.67" y1="507.5" x2="334.67" y2="509.9" stroke="#3a3a3a" stroke-width="0.9"/>
<line x1="336.8" y1="507.5" x2="336.8" y2="509.9" stroke="#3a3a3a" stroke-width="0.9"/>
<line x1="338.93" y1="507.5" x2="338.93" y2="509.9" stroke="#3a3a3a" stroke-width="0.9"/>
<line x1="341.06" y1="507.5" x2="341.06" y2="509.9" stroke="#3a3a3a" stroke-width="0.9"/>
<line x1="343.19" y1="507.5" x2="343.19" y2="509.9" stroke="#3a3a3a" stroke-width="0.9"/>
<line x1="345.32" y1="507.5" x2="345.32" y2="509.9" stroke="#3a3a3a" stroke-width="0.9"/>
<line x1="347.45" y1="507.5" x2="347.45" y2="509.9" stroke="#3a3a3a" stroke-width="0.9"/>
<line x1="349.58" y1="507.5" x2="349.58" y2="509.9" stroke="#3a3a3a" stroke-width="0.9"/>
<line x1="351.71" y1="507.5" x2="351.71" y2="509.9" stroke="#3a3a3a" stroke-width="0.9"/>
<line x1="353.84" y1="507.5" x2="353.84" y2="509.9" stroke="#3a3a3a" stroke-width="0.9"/>
<line x1="355.97" y1="507.5" x2="355.97" y2="509.9" stroke="#3a3a3a" stroke-width="0.9"/>
<line x1="358.1" y1="507.5" x2="358.1" y2="509.9" stroke="#3a3a3a" stroke-width="0.9"/>
<line x1="360.23" y1="507.5" x2="360.23" y2="509.9" stroke="#3a3a3a" stroke-width="0.9"/>
<line x1="362.36" y1="507.5" x2="362.36" y2="509.9" stroke="#3a3a3a" stroke-width="0.9"/>
<line x1="364.49" y1="507.5" x2="364.49" y2="509.9" stroke="#3a3a3a" stroke-width="0.9"/>
<line x1="366.62" y1="507.5" x2="366.62" y2="509.9" stroke="#3a3a3a" stroke-width="0.9"/>
<line x1="368.75" y1="507.5" x2="368.75" y2="509.9" stroke="#3a3a3a" stroke-width="0.9"/>
<text transform="translate(186,451.25) rotate(-90) scale(1.0000,1)" font-size="10.8" text-anchor="start" fill="#2b2b2b">ΔmP</text>
<text transform="translate(255.5,528.3) scale(1.0300,1)" font-size="11.4" text-anchor="start" fill="#2b2b2b">μM [S100B]</text>
<rect x="210.45" y="484.2" width="4.1" height="4.1" fill="#1c1c1c"/>
<rect x="217.95" y="486.7" width="4.1" height="4.1" fill="#1c1c1c"/>
<rect x="224.95" y="480.95" width="4.1" height="4.1" fill="#1c1c1c"/>
<rect x="232.2" y="484.95" width="4.1" height="4.1" fill="#1c1c1c"/>
<rect x="238.7" y="480.95" width="4.1" height="4.1" fill="#1c1c1c"/>
<rect x="245.95" y="481.2" width="4.1" height="4.1" fill="#1c1c1c"/>
<rect x="252.95" y="480.45" width="4.1" height="4.1" fill="#1c1c1c"/>
<rect x="259.95" y="483.45" width="4.1" height="4.1" fill="#1c1c1c"/>
<rect x="266.7" y="480.45" width="4.1" height="4.1" fill="#1c1c1c"/>
<rect x="273.7" y="473.45" width="4.1" height="4.1" fill="#1c1c1c"/>
<rect x="281.05" y="469.55" width="4.1" height="4.1" fill="#1c1c1c"/>
<rect x="287.95" y="449.95" width="4.1" height="4.1" fill="#1c1c1c"/>
<rect x="294.85" y="429.55" width="4.1" height="4.1" fill="#1c1c1c"/>
<rect x="302.05" y="417.55" width="4.1" height="4.1" fill="#1c1c1c"/>
<rect x="308.95" y="408.55" width="4.1" height="4.1" fill="#1c1c1c"/>
<rect x="315.95" y="407.05" width="4.1" height="4.1" fill="#1c1c1c"/>
<rect x="323.15" y="399.85" width="4.1" height="4.1" fill="#1c1c1c"/>
<rect x="330.05" y="399.85" width="4.1" height="4.1" fill="#1c1c1c"/>
<rect x="336.95" y="398.05" width="4.1" height="4.1" fill="#1c1c1c"/>
<rect x="344.15" y="387.85" width="4.1" height="4.1" fill="#1c1c1c"/>
<rect x="351.05" y="394.45" width="4.1" height="4.1" fill="#1c1c1c"/>
<rect x="357.95" y="386.05" width="4.1" height="4.1" fill="#1c1c1c"/>
<rect x="365.15" y="391.45" width="4.1" height="4.1" fill="#1c1c1c"/>
<line x1="204.6" y1="654.5" x2="204.6" y2="798.1" stroke="#4a4a4a" stroke-width="1.0"/>
<line x1="201.6" y1="797.46" x2="204.6" y2="797.46" stroke="#3a3a3a" stroke-width="0.9"/>
<text x="201.3" y="799.79" font-size="6.5" text-anchor="end" fill="#2b2b2b" >-0.2</text>
<line x1="201.6" y1="782.4" x2="204.6" y2="782.4" stroke="#3a3a3a" stroke-width="0.9"/>
<text x="201.3" y="784.73" font-size="6.5" text-anchor="end" fill="#2b2b2b" >0.0</text>
<line x1="201.6" y1="767.34" x2="204.6" y2="767.34" stroke="#3a3a3a" stroke-width="0.9"/>
<text x="201.3" y="769.67" font-size="6.5" text-anchor="end" fill="#2b2b2b" >0.2</text>
<line x1="201.6" y1="752.28" x2="204.6" y2="752.28" stroke="#3a3a3a" stroke-width="0.9"/>
<text x="201.3" y="754.61" font-size="6.5" text-anchor="end" fill="#2b2b2b" >0.4</text>
<line x1="201.6" y1="737.22" x2="204.6" y2="737.22" stroke="#3a3a3a" stroke-width="0.9"/>
<text x="201.3" y="739.55" font-size="6.5" text-anchor="end" fill="#2b2b2b" >0.6</text>
<line x1="201.6" y1="722.16" x2="204.6" y2="722.16" stroke="#3a3a3a" stroke-width="0.9"/>
<text x="201.3" y="724.49" font-size="6.5" text-anchor="end" fill="#2b2b2b" >0.8</text>
<line x1="201.6" y1="707.1" x2="204.6" y2="707.1" stroke="#3a3a3a" stroke-width="0.9"/>
<text x="201.3" y="709.43" font-size="6.5" text-anchor="end" fill="#2b2b2b" >1.0</text>
<line x1="201.6" y1="692.04" x2="204.6" y2="692.04" stroke="#3a3a3a" stroke-width="0.9"/>
<text x="201.3" y="694.37" font-size="6.5" text-anchor="end" fill="#2b2b2b" >1.2</text>
<line x1="201.6" y1="676.98" x2="204.6" y2="676.98" stroke="#3a3a3a" stroke-width="0.9"/>
<text x="201.3" y="679.31" font-size="6.5" text-anchor="end" fill="#2b2b2b" >1.4</text>
<line x1="201.6" y1="661.92" x2="204.6" y2="661.92" stroke="#3a3a3a" stroke-width="0.9"/>
<text x="201.3" y="664.25" font-size="6.5" text-anchor="end" fill="#2b2b2b" >1.6</text>
<line x1="202.6" y1="789.93" x2="204.6" y2="789.93" stroke="#3a3a3a" stroke-width="0.9"/>
<line x1="202.6" y1="774.87" x2="204.6" y2="774.87" stroke="#3a3a3a" stroke-width="0.9"/>
<line x1="202.6" y1="759.81" x2="204.6" y2="759.81" stroke="#3a3a3a" stroke-width="0.9"/>
<line x1="202.6" y1="744.75" x2="204.6" y2="744.75" stroke="#3a3a3a" stroke-width="0.9"/>
<line x1="202.6" y1="729.69" x2="204.6" y2="729.69" stroke="#3a3a3a" stroke-width="0.9"/>
<line x1="202.6" y1="714.63" x2="204.6" y2="714.63" stroke="#3a3a3a" stroke-width="0.9"/>
<line x1="202.6" y1="699.57" x2="204.6" y2="699.57" stroke="#3a3a3a" stroke-width="0.9"/>
<line x1="202.6" y1="684.51" x2="204.6" y2="684.51" stroke="#3a3a3a" stroke-width="0.9"/>
<line x1="202.6" y1="669.45" x2="204.6" y2="669.45" stroke="#3a3a3a" stroke-width="0.9"/>
<line x1="202.6" y1="654.39" x2="204.6" y2="654.39" stroke="#3a3a3a" stroke-width="0.9"/>
<line x1="204.1" y1="797.6" x2="390" y2="797.6" stroke="#4a4a4a" stroke-width="1.0"/>
<line x1="204.86" y1="797.6" x2="204.86" y2="800.6" stroke="#3a3a3a" stroke-width="0.9"/>
<text x="204.86" y="807.33" font-size="6.5" text-anchor="middle" fill="#2b2b2b" >-200</text>
<line x1="224.3" y1="797.6" x2="224.3" y2="800.6" stroke="#3a3a3a" stroke-width="0.9"/>
<text x="224.3" y="807.33" font-size="6.5" text-anchor="middle" fill="#2b2b2b" >0</text>
<line x1="243.74" y1="797.6" x2="243.74" y2="800.6" stroke="#3a3a3a" stroke-width="0.9"/>
<text x="243.74" y="807.33" font-size="6.5" text-anchor="middle" fill="#2b2b2b" >200</text>
<line x1="263.18" y1="797.6" x2="263.18" y2="800.6" stroke="#3a3a3a" stroke-width="0.9"/>
<text x="263.18" y="807.33" font-size="6.5" text-anchor="middle" fill="#2b2b2b" >400</text>
<line x1="282.62" y1="797.6" x2="282.62" y2="800.6" stroke="#3a3a3a" stroke-width="0.9"/>
<text x="282.62" y="807.33" font-size="6.5" text-anchor="middle" fill="#2b2b2b" >600</text>
<line x1="302.06" y1="797.6" x2="302.06" y2="800.6" stroke="#3a3a3a" stroke-width="0.9"/>
<text x="302.06" y="807.33" font-size="6.5" text-anchor="middle" fill="#2b2b2b" >800</text>
<line x1="321.5" y1="797.6" x2="321.5" y2="800.6" stroke="#3a3a3a" stroke-width="0.9"/>
<text x="321.5" y="807.33" font-size="6.5" text-anchor="middle" fill="#2b2b2b" >1000</text>
<line x1="340.94" y1="797.6" x2="340.94" y2="800.6" stroke="#3a3a3a" stroke-width="0.9"/>
<text x="340.94" y="807.33" font-size="6.5" text-anchor="middle" fill="#2b2b2b" >1200</text>
<line x1="360.38" y1="797.6" x2="360.38" y2="800.6" stroke="#3a3a3a" stroke-width="0.9"/>
<text x="360.38" y="807.33" font-size="6.5" text-anchor="middle" fill="#2b2b2b" >1400</text>
<line x1="379.82" y1="797.6" x2="379.82" y2="800.6" stroke="#3a3a3a" stroke-width="0.9"/>
<text x="379.82" y="807.33" font-size="6.5" text-anchor="middle" fill="#2b2b2b" >1600</text>
<line x1="214.58" y1="797.6" x2="214.58" y2="800" stroke="#3a3a3a" stroke-width="0.9"/>
<line x1="234.02" y1="797.6" x2="234.02" y2="800" stroke="#3a3a3a" stroke-width="0.9"/>
<line x1="253.46" y1="797.6" x2="253.46" y2="800" stroke="#3a3a3a" stroke-width="0.9"/>
<line x1="272.9" y1="797.6" x2="272.9" y2="800" stroke="#3a3a3a" stroke-width="0.9"/>
<line x1="292.34" y1="797.6" x2="292.34" y2="800" stroke="#3a3a3a" stroke-width="0.9"/>
<line x1="311.78" y1="797.6" x2="311.78" y2="800" stroke="#3a3a3a" stroke-width="0.9"/>
<line x1="331.22" y1="797.6" x2="331.22" y2="800" stroke="#3a3a3a" stroke-width="0.9"/>
<line x1="350.66" y1="797.6" x2="350.66" y2="800" stroke="#3a3a3a" stroke-width="0.9"/>
<line x1="370.1" y1="797.6" x2="370.1" y2="800" stroke="#3a3a3a" stroke-width="0.9"/>
<line x1="389.54" y1="797.6" x2="389.54" y2="800" stroke="#3a3a3a" stroke-width="0.9"/>
<text transform="translate(188.9,735) rotate(-90) scale(1.0000,1)" font-size="11.0" text-anchor="start" fill="#2b2b2b">Δε<tspan font-size="10" dy="-1.5">*</tspan></text>
<text transform="translate(268.4,819) scale(1.0300,1)" font-size="11.4" text-anchor="start" fill="#2b2b2b">μM [Ca<tspan font-size="7" dy="-3.9">2+</tspan><tspan dy="3.9">]</tspan></text>
<rect x="221.95" y="780.45" width="4.1" height="4.1" fill="#1c1c1c"/>
<rect x="222.7" y="753.55" width="4.1" height="4.1" fill="#1c1c1c"/>
<rect x="224.45" y="741.05" width="4.1" height="4.1" fill="#1c1c1c"/>
<rect x="226.95" y="721.7" width="4.1" height="4.1" fill="#1c1c1c"/>
<rect x="232.7" y="718.35" width="4.1" height="4.1" fill="#1c1c1c"/>
<rect x="241.05" y="700.45" width="4.1" height="4.1" fill="#1c1c1c"/>
<rect x="251.05" y="702.7" width="4.1" height="4.1" fill="#1c1c1c"/>
<rect x="266.05" y="687.55" width="4.1" height="4.1" fill="#1c1c1c"/>
<rect x="279.85" y="689.95" width="4.1" height="4.1" fill="#1c1c1c"/>
<rect x="309.55" y="676.45" width="4.1" height="4.1" fill="#1c1c1c"/>
<rect x="368.15" y="665.05" width="4.1" height="4.1" fill="#1c1c1c"/>
<polyline points="83.82,216.69 84.28,216.31 84.75,215.86 85.21,215.32 85.67,214.72 86.13,214.05 86.6,213.31 87.06,212.52 87.52,211.66 87.99,210.75 88.45,209.78 88.91,208.76 89.37,207.7 89.84,206.58 90.3,205.43 90.76,204.24 91.23,203 91.69,201.74 92.15,200.43 92.61,199.1 93.08,197.74 93.54,196.36 94,194.95 94.47,193.51 94.93,192.06 95.39,190.59 95.85,189.11 96.32,187.6 96.78,186.09 97.24,184.57 97.71,183.04 98.17,181.5 98.63,179.95 99.09,178.4 99.56,176.85 100.02,175.3 100.48,173.74 100.95,172.19 101.41,170.64 101.87,169.09 102.33,167.55 102.8,166.01 103.26,164.48 103.72,162.95 104.19,161.44 104.65,159.93 105.11,158.43 105.57,156.94 106.04,155.46 106.5,153.99 106.96,152.53 107.43,151.08 107.89,149.65 108.35,148.23 108.81,146.82 109.28,145.43 109.74,144.05 110.2,142.68 110.67,141.33 111.13,139.99 111.59,138.66 112.05,137.36 112.52,136.06 112.98,134.78 113.44,133.52 113.91,132.27 114.37,131.04 114.83,129.82 115.29,128.61 115.76,127.42 116.22,126.25 116.68,125.09 117.15,123.95 117.61,122.82 118.07,121.71 118.53,120.61 119,119.53 119.46,118.46 119.92,117.4 120.39,116.36 120.85,115.34 121.31,114.33 121.77,113.33 122.24,112.35 122.7,111.38 123.16,110.42 123.63,109.48 124.09,108.55 124.55,107.63 125.01,106.73 125.48,105.84 125.94,104.96 126.4,104.1 126.87,103.25 127.33,102.41 127.79,101.58 128.25,100.76 128.72,99.96 129.18,99.17 129.64,98.39 130.11,97.62 130.57,96.86 131.03,96.11 131.49,95.37 131.96,94.65 132.42,93.93 132.88,93.23 133.35,92.53 133.81,91.85 134.27,91.17 134.73,90.51 135.2,89.85 135.66,89.21 136.12,88.57 136.59,87.94 137.05,87.32 137.51,86.71 137.97,86.11 138.44,85.52 138.9,84.94 139.44,84.26 141.27,82.08 143.09,80.01 144.92,78.05 146.74,76.21 148.56,74.45 150.39,72.79 152.21,71.22 154.04,69.73 155.86,68.31 157.68,66.96 159.51,65.69 161.33,64.47 163.16,63.31 164.98,62.21 166.8,61.16 168.63,60.16 170.45,59.21 172.28,58.29 174.1,57.43 175.92,56.59 177.75,55.8 179.57,55.04 181.4,54.31 183.22,53.61 185.04,52.95 186.87,52.31 188.69,51.69 190.52,51.1 192.34,50.54 194.16,49.99 195.99,49.47 197.81,48.97 199.64,48.49 201.46,48.02 203.28,47.57 205.11,47.14 206.93,46.73 208.76,46.33 210.58,45.94 212.4,45.57 214.23,45.21 216.05,44.86 217.88,44.53 219.7,44.2 221.52,43.89 223.35,43.58 225.17,43.29 227,43.01 228.82,42.73 230.64,42.47 232.47,42.21 234.29,41.96 236.12,41.72 237.94,41.48 239.76,41.25 241.59,41.03 243.41,40.82 245.24,40.61 247.06,40.41 248.88,40.21 250.71,40.02 252.53,39.83 254.36,39.65 256.18,39.48 258,39.31 259.83,39.14 261.65,38.98 263.48,38.82 265.3,38.67 267.12,38.52 268.95,38.37 270.77,38.23 272.6,38.09 274.42,37.96 276.24,37.83 278.07,37.7 279.89,37.58 281.72,37.45 283.54,37.34 285.36,37.22 287.19,37.11 289.01,37 290.84,36.89 292.66,36.78 294.48,36.68 296.31,36.58 298.13,36.48 299.96,36.38 301.78,36.29 303.6,36.2 305.43,36.11 307.25,36.02 309.08,35.94 310.9,35.85 312.72,35.77 314.55,35.69 316.37,35.61 318.2,35.53 320.02,35.46 321.84,35.38 323.67,35.31 325.49,35.24 327.32,35.17 329.14,35.1 330.96,35.03 332.79,34.97 334.61,34.91 336.44,34.84 338.26,34.78 340.08,34.72 341.91,34.66 343.73,34.6 345.56,34.54 347.38,34.49 349.2,34.43 351.03,34.38 352.85,34.33 354.68,34.27 356.5,34.22" fill="none" stroke="#c92640" stroke-width="2.2" stroke-linejoin="round" stroke-linecap="round"/>
<polyline points="84.52,506.88 85.01,506.65 85.51,506.4 86,506.13 86.49,505.83 86.98,505.51 87.47,505.16 87.96,504.8 88.45,504.4 88.94,503.98 89.43,503.54 89.92,503.07 90.41,502.58 90.9,502.06 91.4,501.51 91.89,500.94 92.38,500.35 92.87,499.73 93.36,499.09 93.85,498.42 94.34,497.73 94.83,497.01 95.32,496.27 95.81,495.51 96.3,494.72 96.79,493.92 97.29,493.08 97.78,492.23 98.27,491.36 98.76,490.47 99.25,489.55 99.74,488.62 100.23,487.66 100.72,486.69 101.21,485.71 101.7,484.7 102.19,483.68 102.68,482.64 103.18,481.58 103.67,480.52 104.16,479.43 104.65,478.34 105.14,477.23 105.63,476.11 106.12,474.98 106.61,473.84 107.1,472.69 107.59,471.53 108.08,470.36 108.57,469.18 109.07,468 109.56,466.81 110.05,465.61 110.54,464.41 111.03,463.21 111.52,462 112.01,460.78 112.5,459.57 112.99,458.35 113.48,457.13 113.97,455.92 114.46,454.7 114.96,453.48 115.45,452.26 115.94,451.04 116.43,449.83 116.92,448.61 117.41,447.4 117.9,446.2 118.39,444.99 118.88,443.79 119.37,442.6 119.86,441.41 120.35,440.22 120.85,439.04 121.34,437.87 121.83,436.7 122.32,435.54 122.81,434.39 123.3,433.24 123.79,432.1 124.28,430.97 124.77,429.85 125.26,428.73 125.75,427.62 126.24,426.52 126.74,425.43 127.23,424.35 127.72,423.28 128.21,422.21 128.7,421.16 129.19,420.11 129.68,419.08 130.17,418.05 130.66,417.03 131.15,416.03 131.64,415.03 132.13,414.04 132.63,413.07 133.12,412.1 133.61,411.14 134.1,410.19 134.59,409.25 135.08,408.33 135.57,407.41 136.06,406.5 136.55,405.61 137.04,404.72 137.53,403.84 138.02,402.97 138.52,402.12 139.01,401.27 139.5,400.43 139.99,399.6 140.48,398.78 140.97,397.98 141.46,397.18 141.95,396.39 142.44,395.61 142.93,394.84 143.42,394.08 143.91,393.33 144.41,392.58 144.9,391.85 145.39,391.13 145.88,390.41 146.37,389.71 146.86,389.01 147.35,388.32 147.84,387.64 148.33,386.97 148.82,386.31 149.31,385.66 149.8,385.01 150.3,384.38 150.79,383.75 151.28,383.13 151.77,382.51 152.26,381.91 152.75,381.31 153.3,380.66 155.03,378.64 156.77,376.72 158.5,374.88 160.23,373.13 161.97,371.45 163.7,369.86 165.43,368.33 167.17,366.88 168.9,365.49 170.64,364.16 172.37,362.9 174.1,361.69 175.84,360.53 177.57,359.43 179.3,358.37 181.04,357.36 182.77,356.39 184.51,355.47 186.24,354.59 187.97,353.74 189.71,352.93 191.44,352.15 193.18,351.41 194.91,350.69 196.64,350.01 198.38,349.35 200.11,348.72 201.84,348.12 203.58,347.54 205.31,346.98 207.05,346.44 208.78,345.93 210.51,345.43 212.25,344.95 213.98,344.49 215.71,344.05 217.45,343.63 219.18,343.22 220.92,342.82 222.65,342.44 224.38,342.08 226.12,341.72 227.85,341.38 229.59,341.05 231.32,340.73 233.05,340.43 234.79,340.13 236.52,339.84 238.25,339.57 239.99,339.3 241.72,339.04 243.46,338.79 245.19,338.55 246.92,338.31 248.66,338.09 250.39,337.87 252.12,337.65 253.86,337.45 255.59,337.25 257.33,337.05 259.06,336.87 260.79,336.68 262.53,336.51 264.26,336.33 265.99,336.17 267.73,336.01 269.46,335.85 271.2,335.7 272.93,335.55 274.66,335.41 276.4,335.27 278.13,335.13 279.87,335 281.6,334.87 283.33,334.74 285.07,334.62 286.8,334.5 288.53,334.39 290.27,334.28 292,334.17 293.74,334.06 295.47,333.96 297.2,333.86 298.94,333.76 300.67,333.66 302.4,333.57 304.14,333.48 305.87,333.39 307.61,333.3 309.34,333.22 311.07,333.14 312.81,333.06 314.54,332.98 316.28,332.9 318.01,332.83 319.74,332.75 321.48,332.68 323.21,332.61 324.94,332.55 326.68,332.48 328.41,332.41 330.15,332.35 331.88,332.29 333.61,332.23 335.35,332.17 337.08,332.11 338.81,332.06 340.55,332 342.28,331.95 344.02,331.89 345.75,331.84 347.48,331.79 349.22,331.74 350.95,331.69 352.68,331.64 354.42,331.6 356.15,331.55 357.89,331.51 359.62,331.46" fill="none" stroke="#c92640" stroke-width="2.2" stroke-linejoin="round" stroke-linecap="round"/>
<polyline points="84.02,799.94 84.02,799.93 84.02,799.91 84.02,799.89 84.02,799.87 84.03,799.85 84.03,799.83 84.03,799.81 84.03,799.79 84.03,799.76 84.03,799.74 84.04,799.71 84.04,799.68 84.04,799.65 84.04,799.62 84.04,799.59 84.05,799.55 84.05,799.52 84.05,799.48 84.05,799.43 84.06,799.39 84.06,799.35 84.06,799.3 84.07,799.25 84.07,799.19 84.07,799.14 84.08,799.08 84.08,799.01 84.09,798.95 84.09,798.88 84.1,798.81 84.1,798.73 84.11,798.65 84.11,798.56 84.12,798.47 84.12,798.37 84.13,798.27 84.14,798.17 84.15,798.06 84.15,797.94 84.16,797.82 84.17,797.68 84.18,797.55 84.19,797.4 84.2,797.25 84.21,797.09 84.22,796.92 84.23,796.74 84.25,796.56 84.26,796.36 84.27,796.15 84.29,795.93 84.3,795.7 84.32,795.46 84.34,795.21 84.35,794.94 84.37,794.66 84.39,794.36 84.41,794.05 84.44,793.73 84.46,793.38 84.48,793.02 84.51,792.64 84.54,792.25 84.57,791.83 84.6,791.39 84.63,790.93 84.66,790.44 84.7,789.94 84.73,789.4 84.77,788.85 84.82,788.26 84.86,787.65 84.91,787.01 84.95,786.33 85,785.63 85.06,784.89 85.12,784.12 85.18,783.31 85.24,782.47 85.3,781.59 85.37,780.67 85.45,779.71 85.53,778.71 85.61,777.67 85.69,776.58 85.78,775.45 85.88,774.27 85.98,773.04 86.09,771.77 86.2,770.44 86.32,769.07 86.44,767.64 86.57,766.16 86.71,764.63 86.86,763.05 87.01,761.41 87.17,759.72 87.34,757.97 87.52,756.17 87.71,754.31 87.91,752.4 88.12,750.44 88.34,748.42 88.57,746.35 88.81,744.23 89.07,742.05 89.34,739.83 89.63,737.56 89.93,735.25 90.25,732.89 90.59,730.49 90.94,728.05 91.31,725.58 91.7,723.07 92.11,720.53 92.55,717.96 93.01,715.37 93.49,712.75 94,710.12 94.1,709.62 95.77,701.84 97.44,695.07 99.11,689.13 100.78,683.88 102.45,679.2 104.12,675.01 105.78,671.23 107.45,667.81 109.12,664.7 110.79,661.85 112.46,659.25 114.13,656.85 115.8,654.63 117.47,652.58 119.14,650.67 120.81,648.9 122.48,647.24 124.15,645.69 125.81,644.24 127.48,642.87 129.15,641.59 130.82,640.38 132.49,639.23 134.16,638.15 135.83,637.13 137.5,636.16 139.17,635.23 140.84,634.36 142.51,633.52 144.18,632.72 145.84,631.96 147.51,631.24 149.18,630.54 150.85,629.88 152.52,629.24 154.19,628.63 155.86,628.04 157.53,627.48 159.2,626.94 160.87,626.41 162.54,625.91 164.21,625.43 165.87,624.96 167.54,624.51 169.21,624.08 170.88,623.66 172.55,623.26 174.22,622.86 175.89,622.48 177.56,622.12 179.23,621.76 180.9,621.42 182.57,621.08 184.24,620.76 185.91,620.45 187.57,620.14 189.24,619.85 190.91,619.56 192.58,619.28 194.25,619.01 195.92,618.74 197.59,618.48 199.26,618.23 200.93,617.99 202.6,617.75 204.27,617.52 205.94,617.29 207.6,617.07 209.27,616.86 210.94,616.65 212.61,616.44 214.28,616.24 215.95,616.05 217.62,615.86 219.29,615.67 220.96,615.49 222.63,615.31 224.3,615.14 225.97,614.97 227.63,614.8 229.3,614.64 230.97,614.48 232.64,614.32 234.31,614.17 235.98,614.02 237.65,613.87 239.32,613.73 240.99,613.59 242.66,613.45 244.33,613.32 246,613.18 247.66,613.05 249.33,612.92 251,612.8 252.67,612.68 254.34,612.56 256.01,612.44 257.68,612.32 259.35,612.21 261.02,612.09 262.69,611.98 264.36,611.88 266.03,611.77 267.69,611.67 269.36,611.56 271.03,611.46 272.7,611.36 274.37,611.26 276.04,611.17 277.71,611.07 279.38,610.98 281.05,610.89 282.72,610.8 284.39,610.71 286.06,610.62 287.73,610.54 289.39,610.45 291.06,610.37 292.73,610.29 294.4,610.21 296.07,610.13 297.74,610.05 299.41,609.97 301.08,609.9 302.75,609.82 304.42,609.75 306.09,609.68 307.76,609.6 309.42,609.53 311.09,609.46 312.76,609.4 314.43,609.33 316.1,609.26 317.77,609.2 319.44,609.13 321.11,609.07 322.78,609 324.45,608.94 326.12,608.88 327.79,608.82 329.45,608.76 331.12,608.7 332.79,608.64 334.46,608.58 336.13,608.53 337.8,608.47 339.47,608.42 341.14,608.36 342.81,608.31 344.48,608.25 346.15,608.2 347.82,608.15 349.48,608.1 351.15,608.05 352.82,608 354.49,607.95 356.16,607.9 357.83,607.85 359.5,607.8" fill="none" stroke="#c92640" stroke-width="2.2" stroke-linejoin="round" stroke-linecap="round"/>
<polyline points="208.5,189.41 209.29,188.84 210.09,188.26 210.88,187.67 211.68,187.06 212.47,186.44 213.26,185.81 214.06,185.16 214.85,184.5 215.65,183.83 216.44,183.14 217.23,182.44 218.03,181.73 218.82,181.01 219.62,180.27 220.41,179.52 221.2,178.76 222,177.98 222.79,177.2 223.59,176.4 224.38,175.59 225.17,174.76 225.97,173.93 226.76,173.09 227.56,172.23 228.35,171.37 229.14,170.5 229.94,169.62 230.73,168.72 231.53,167.83 232.32,166.92 233.11,166 233.91,165.08 234.7,164.16 235.49,163.22 236.29,162.28 237.08,161.34 237.88,160.39 238.67,159.44 239.46,158.49 240.26,157.54 241.05,156.58 241.85,155.62 242.64,154.66 243.43,153.7 244.23,152.75 245.02,151.79 245.82,150.84 246.61,149.89 247.4,148.94 248.2,147.99 248.99,147.06 249.79,146.12 250.58,145.19 251.37,144.27 252.17,143.35 252.96,142.44 253.76,141.54 254.55,140.65 255.34,139.76 256.14,138.89 256.93,138.02 257.73,137.17 258.52,136.32 259.31,135.48 260.11,134.66 260.9,133.84 261.7,133.04 262.49,132.25 263.28,131.47 264.08,130.71 264.87,129.95 265.67,129.21 266.46,128.48 267.25,127.77 268.05,127.07 268.84,126.38 269.64,125.7 270.43,125.04 271.22,124.39 272.02,123.75 272.81,123.13 273.61,122.52 274.4,121.92 275.19,121.33 275.99,120.76 276.78,120.21 277.58,119.66 278.37,119.13 279.16,118.61 279.96,118.1 280.75,117.61 281.55,117.12 282.34,116.65 283.13,116.2 283.93,115.75 284.72,115.32 285.52,114.89 286.31,114.48 287.1,114.08 287.9,113.69 288.69,113.31 289.48,112.94 290.28,112.58 291.07,112.23 291.87,111.89 292.66,111.56 293.45,111.24 294.25,110.93 295.04,110.63 295.84,110.34 296.63,110.06 297.42,109.78 298.22,109.51 299.01,109.25 299.81,109 300.6,108.76 301.39,108.52 302.19,108.29 302.98,108.07 303.78,107.86 304.57,107.65 305.36,107.45 306.16,107.25 306.95,107.06 307.75,106.88 308.54,106.7 309.33,106.53 310.13,106.36 310.92,106.2 311.72,106.05 312.51,105.9 313.3,105.75 314.1,105.61 314.89,105.47 315.69,105.34 316.48,105.21 317.27,105.09 318.07,104.97 318.86,104.86 319.66,104.75 320.45,104.64 321.24,104.53 322.04,104.43 322.83,104.33 323.63,104.24 324.42,104.15 325.21,104.06 326.01,103.98 326.8,103.89 327.6,103.82 328.39,103.74 329.18,103.66 329.98,103.59 330.77,103.52 331.57,103.46 332.36,103.39 333.15,103.33 333.95,103.27 334.74,103.21 335.54,103.16 336.33,103.1 337.12,103.05 337.92,103 338.71,102.95 339.51,102.9 340.3,102.86 341.09,102.81 341.89,102.77 342.68,102.73 343.47,102.69 344.27,102.65 345.06,102.61 345.86,102.58 346.65,102.54 347.44,102.51 348.24,102.48 349.03,102.45 349.83,102.42 350.62,102.39 351.41,102.36 352.21,102.34 353,102.31 353.8,102.28 354.59,102.26 355.38,102.24 356.18,102.21 356.97,102.19 357.77,102.17 358.56,102.15 359.35,102.13 360.15,102.11 360.94,102.1 361.74,102.08 362.53,102.06 363.32,102.04 364.12,102.03 364.91,102.01 365.71,102 366.5,101.98" fill="none" stroke="#cf3550" stroke-width="1.0" stroke-linejoin="round" stroke-linecap="round"/>
<polyline points="212.5,492.04 213.47,492.03 214.45,492.02 215.42,492.01 216.4,491.99 217.37,491.98 218.35,491.96 219.32,491.95 220.3,491.93 221.27,491.91 222.25,491.89 223.22,491.87 224.2,491.85 225.17,491.82 226.15,491.79 227.12,491.76 228.1,491.73 229.07,491.7 230.05,491.66 231.02,491.62 232,491.58 232.97,491.53 233.95,491.48 234.92,491.43 235.9,491.37 236.87,491.3 237.85,491.24 238.82,491.16 239.8,491.08 240.77,491 241.75,490.91 242.72,490.81 243.69,490.7 244.67,490.59 245.64,490.46 246.62,490.33 247.59,490.19 248.57,490.03 249.54,489.87 250.52,489.69 251.49,489.49 252.47,489.28 253.44,489.06 254.42,488.82 255.39,488.56 256.37,488.28 257.34,487.98 258.32,487.66 259.29,487.32 260.27,486.94 261.24,486.55 262.22,486.12 263.19,485.66 264.17,485.17 265.14,484.64 266.12,484.08 267.09,483.48 268.07,482.83 269.04,482.14 270.02,481.41 270.99,480.63 271.97,479.79 272.94,478.91 273.92,477.97 274.89,476.97 275.86,475.91 276.84,474.79 277.81,473.61 278.79,472.36 279.76,471.05 280.74,469.67 281.71,468.22 282.69,466.71 283.66,465.14 284.64,463.5 285.61,461.79 286.59,460.03 287.56,458.21 288.54,456.33 289.51,454.41 290.49,452.44 291.46,450.43 292.44,448.4 293.41,446.33 294.39,444.25 295.36,442.16 296.34,440.06 297.31,437.97 298.29,435.89 299.26,433.83 300.24,431.8 301.21,429.81 302.19,427.85 303.16,425.94 304.14,424.09 305.11,422.29 306.08,420.55 307.06,418.88 308.03,417.27 309.01,415.74 309.98,414.27 310.96,412.88 311.93,411.56 312.91,410.31 313.88,409.13 314.86,408.02 315.83,406.97 316.81,405.99 317.78,405.07 318.76,404.22 319.73,403.42 320.71,402.67 321.68,401.98 322.66,401.34 323.63,400.74 324.61,400.19 325.58,399.68 326.56,399.2 327.53,398.77 328.51,398.36 329.48,397.99 330.46,397.65 331.43,397.33 332.41,397.04 333.38,396.78 334.36,396.53 335.33,396.31 336.31,396.1 337.28,395.91 338.25,395.74 339.23,395.58 340.2,395.43 341.18,395.3 342.15,395.17 343.13,395.06 344.1,394.96 345.08,394.86 346.05,394.77 347.03,394.7 348,394.62 348.98,394.56 349.95,394.5 350.93,394.44 351.9,394.39 352.88,394.34 353.85,394.3 354.83,394.26 355.8,394.22 356.78,394.19 357.75,394.16 358.73,394.14 359.7,394.11 360.68,394.09 361.65,394.07 362.63,394.05 363.6,394.03 364.58,394.01 365.55,394 366.53,393.99 367.5,393.97" fill="none" stroke="#cf3550" stroke-width="1.0" stroke-linejoin="round" stroke-linecap="round"/>
<polyline points="224,783.09 224,783.08 224,783.07 224,783.06 224,783.05 224,783.03 224,783.02 224,783.01 224,782.99 224,782.98 224,782.97 224,782.95 224,782.94 224,782.92 224,782.91 224,782.89 224,782.87 224,782.86 224,782.84 224,782.82 224,782.8 224,782.78 224,782.76 224,782.74 224,782.72 224,782.7 224,782.68 224,782.66 224,782.63 224,782.61 224,782.58 224,782.56 224,782.53 224,782.5 224,782.48 224.01,782.45 224.01,782.42 224.01,782.39 224.01,782.36 224.01,782.32 224.01,782.29 224.01,782.26 224.01,782.22 224.01,782.19 224.01,782.15 224.01,782.11 224.01,782.07 224.01,782.03 224.01,781.99 224.01,781.95 224.01,781.9 224.01,781.86 224.01,781.81 224.01,781.76 224.01,781.71 224.01,781.66 224.01,781.61 224.01,781.56 224.01,781.5 224.02,781.44 224.02,781.39 224.02,781.33 224.02,781.26 224.02,781.2 224.02,781.13 224.02,781.07 224.02,781 224.02,780.93 224.02,780.85 224.02,780.78 224.03,780.7 224.03,780.62 224.03,780.54 224.03,780.45 224.03,780.37 224.03,780.28 224.03,780.19 224.04,780.09 224.04,780 224.04,779.9 224.04,779.8 224.04,779.69 224.04,779.58 224.05,779.47 224.05,779.36 224.05,779.24 224.05,779.12 224.06,779 224.06,778.87 224.06,778.74 224.06,778.6 224.07,778.47 224.07,778.33 224.07,778.18 224.08,778.03 224.08,777.88 224.09,777.72 224.09,777.56 224.09,777.39 224.1,777.22 224.1,777.05 224.11,776.87 224.11,776.68 224.12,776.49 224.12,776.3 224.13,776.1 224.14,775.89 224.14,775.68 224.15,775.47 224.16,775.24 224.16,775.02 224.17,774.78 224.18,774.55 224.19,774.3 224.2,774.05 224.2,773.79 224.21,773.53 224.22,773.26 224.24,772.98 224.25,772.7 224.26,772.4 224.27,772.11 224.28,771.8 224.3,771.49 224.31,771.17 224.33,770.84 224.34,770.5 224.36,770.16 224.37,769.8 224.39,769.44 224.41,769.07 224.43,768.7 224.45,768.31 224.47,767.91 224.49,767.51 224.52,767.1 224.54,766.68 224.57,766.24 224.59,765.8 224.62,765.35 224.65,764.89 224.68,764.42 224.71,763.94 224.75,763.45 224.78,762.95 224.82,762.44 224.86,761.92 224.9,761.39 224.94,760.85 224.99,760.3 225.04,759.74 225.08,759.16 225.14,758.58 225.19,757.99 225.25,757.38 225.3,756.76 225.37,756.14 225.43,755.5 225.5,754.85 225.57,754.19 225.64,753.52 225.72,752.84 225.8,752.15 225.89,751.44 225.98,750.73 226.07,750.01 226.17,749.27 226.27,748.52 226.38,747.77 226.49,747 226.61,746.23 226.74,745.44 226.87,744.64 227,743.84 227.14,743.02 227.29,742.19 227.45,741.36 227.61,740.52 227.78,739.66 227.96,738.8 228.15,737.93 228.35,737.06 228.55,736.17 228.77,735.28 228.99,734.38 229.23,733.47 229.48,732.55 229.74,731.63 230.01,730.71 230.29,729.77 230.59,728.84 230.91,727.89 231.23,726.95 231.58,726 231.93,725.04 232.31,724.08 232.7,723.12 233.12,722.15 233.55,721.19 234,720.22 234.01,720.2 234.93,718.36 235.84,716.66 236.76,715.1 237.67,713.64 238.59,712.28 239.51,711.01 240.42,709.81 241.34,708.68 242.25,707.62 243.17,706.61 244.09,705.65 245,704.74 245.92,703.87 246.83,703.05 247.75,702.25 248.67,701.5 249.58,700.77 250.5,700.07 251.41,699.4 252.33,698.76 253.25,698.14 254.16,697.54 255.08,696.97 255.99,696.41 256.91,695.87 257.83,695.35 258.74,694.84 259.66,694.36 260.58,693.88 261.49,693.42 262.41,692.98 263.32,692.54 264.24,692.12 265.16,691.71 266.07,691.32 266.99,690.93 267.9,690.55 268.82,690.18 269.74,689.82 270.65,689.47 271.57,689.13 272.48,688.8 273.4,688.48 274.32,688.16 275.23,687.85 276.15,687.54 277.06,687.25 277.98,686.96 278.9,686.67 279.81,686.39 280.73,686.12 281.64,685.86 282.56,685.59 283.48,685.34 284.39,685.09 285.31,684.84 286.22,684.6 287.14,684.36 288.06,684.13 288.97,683.9 289.89,683.68 290.8,683.46 291.72,683.24 292.64,683.03 293.55,682.82 294.47,682.62 295.38,682.42 296.3,682.22 297.22,682.02 298.13,681.83 299.05,681.64 299.96,681.46 300.88,681.28 301.8,681.1 302.71,680.92 303.63,680.75 304.55,680.57 305.46,680.41 306.38,680.24 307.29,680.08 308.21,679.91 309.13,679.75 310.04,679.6 310.96,679.44 311.87,679.29 312.79,679.14 313.71,678.99 314.62,678.85 315.54,678.7 316.45,678.56 317.37,678.42 318.29,678.28 319.2,678.14 320.12,678.01 321.03,677.88 321.95,677.75 322.87,677.62 323.78,677.49 324.7,677.36 325.61,677.24 326.53,677.11 327.45,676.99 328.36,676.87 329.28,676.75 330.19,676.63 331.11,676.52 332.03,676.4 332.94,676.29 333.86,676.18 334.77,676.07 335.69,675.96 336.61,675.85 337.52,675.74 338.44,675.63 339.35,675.53 340.27,675.43 341.19,675.32 342.1,675.22 343.02,675.12 343.93,675.02 344.85,674.92 345.77,674.83 346.68,674.73 347.6,674.64 348.52,674.54 349.43,674.45 350.35,674.36 351.26,674.26 352.18,674.17 353.1,674.08 354.01,673.99 354.93,673.91 355.84,673.82 356.76,673.73 357.68,673.65 358.59,673.56 359.51,673.48 360.42,673.4 361.34,673.32 362.26,673.23 363.17,673.15 364.09,673.07 365,672.99 365.92,672.92 366.84,672.84 367.75,672.76 368.67,672.68 369.58,672.61 370.5,672.53" fill="none" stroke="#cf3550" stroke-width="1.0" stroke-linejoin="round" stroke-linecap="round"/>
</svg>
</body></html>
